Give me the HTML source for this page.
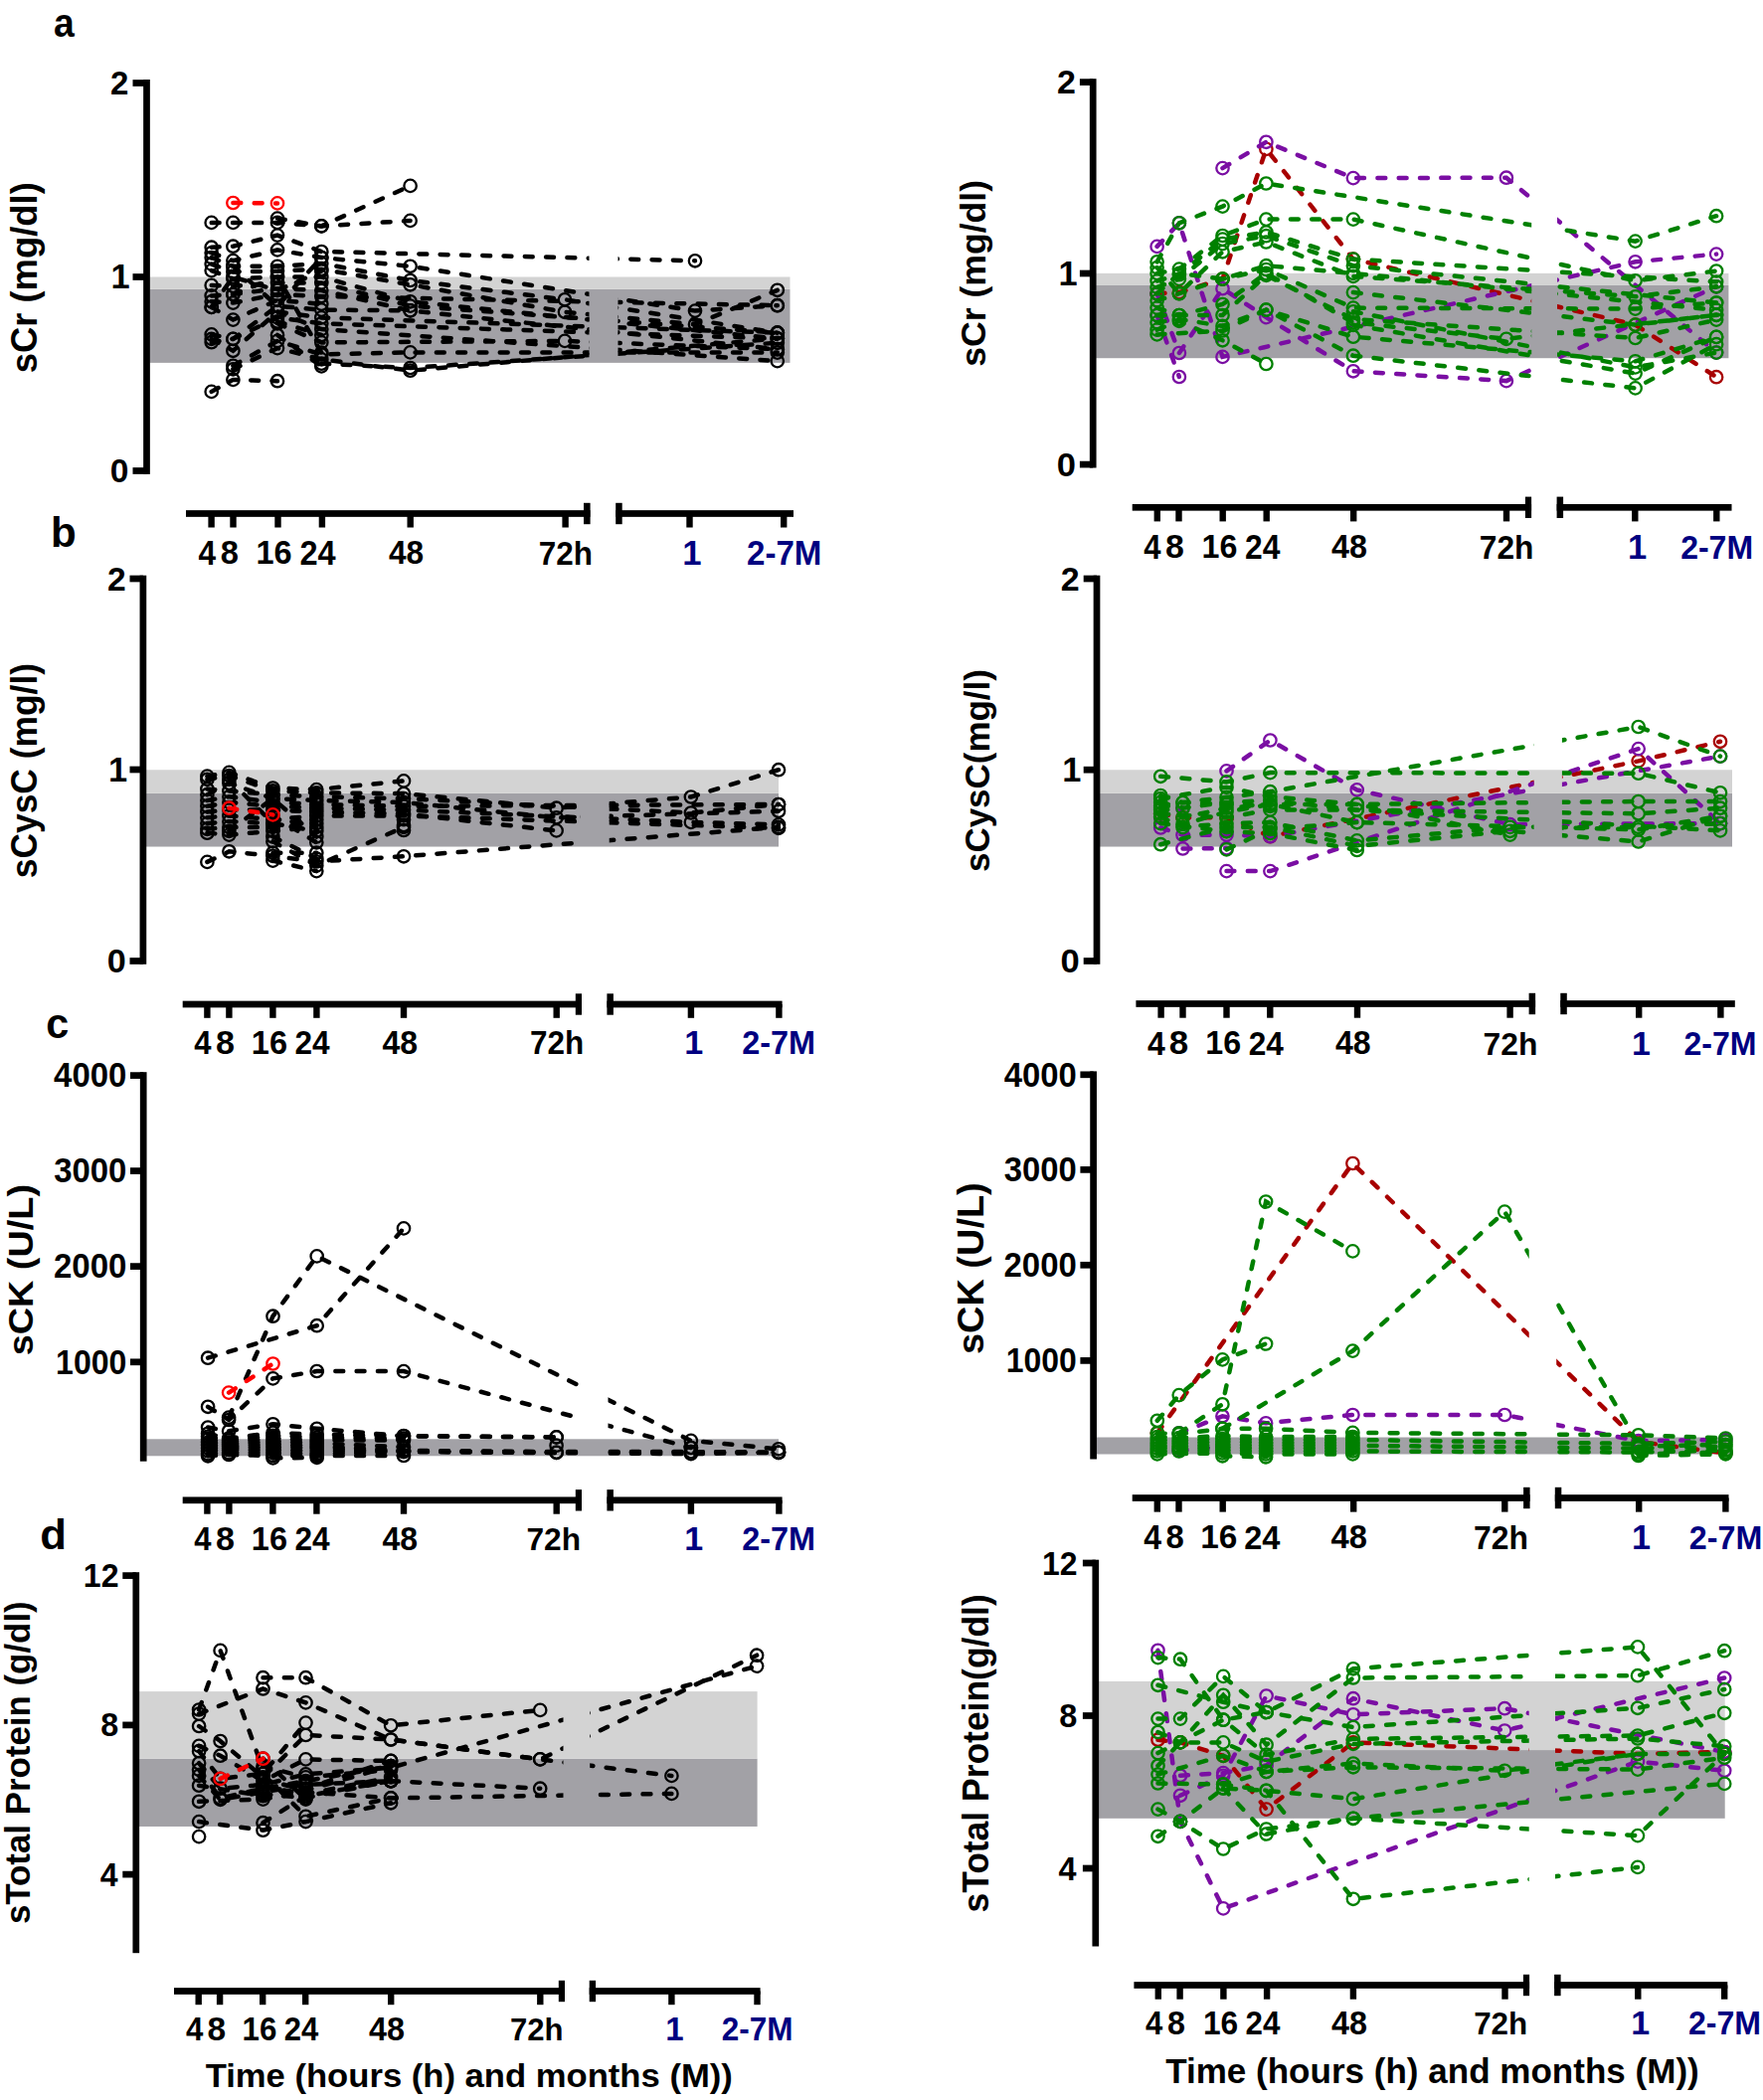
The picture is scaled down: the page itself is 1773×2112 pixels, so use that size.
<!DOCTYPE html>
<html><head><meta charset="utf-8"><title>Figure</title>
<style>html,body{margin:0;padding:0;background:#fff}svg{display:block}.ln{fill:none;stroke-width:4.5;stroke-dasharray:7.9 13.4;stroke-linecap:round}.pt{fill:none;stroke-width:2.3}text{font-family:"Liberation Sans",sans-serif;font-weight:700}</style>
</head><body>
<svg width="1773" height="2112" viewBox="0 0 1773 2112">
<rect width="1773" height="2112" fill="#fff"/>
<rect x="150.40" y="290.78" width="644.10" height="74.10" fill="#a2a1a6"/>
<rect x="150.40" y="278.50" width="644.10" height="12.28" fill="#d3d3d3"/>
<clipPath id="c1"><rect x="0" y="0" width="592.5" height="2112"/><rect x="621.5" y="0" width="1151.5" height="2112"/></clipPath>
<polyline clip-path="url(#c1)" class="ln" points="234.4,204.0 279.0,204.4" stroke="#ff0000"/>
<g class="pt" stroke="#ff0000"><circle cx="234.4" cy="204.0" r="6.2"/><circle cx="279.0" cy="204.4" r="6.2"/></g>
<polyline clip-path="url(#c1)" class="ln" points="212.7,223.9 234.4,223.9 279.0,223.9 323.3,227.4 412.6,186.9" stroke="#000"/>
<g class="pt" stroke="#000"><circle cx="212.7" cy="223.9" r="6.2"/><circle cx="234.4" cy="223.9" r="6.2"/><circle cx="279.0" cy="223.9" r="6.2"/><circle cx="323.3" cy="227.4" r="6.2"/><circle cx="412.6" cy="186.9" r="6.2"/></g>
<polyline clip-path="url(#c1)" class="ln" points="279.0,219.6 323.3,227.4 412.6,221.9" stroke="#000"/>
<g class="pt" stroke="#000"><circle cx="279.0" cy="219.6" r="6.2"/><circle cx="323.3" cy="227.4" r="6.2"/><circle cx="412.6" cy="221.9" r="6.2"/></g>
<polyline clip-path="url(#c1)" class="ln" points="212.7,248.7 234.4,247.7 279.0,236.6 323.3,253.0 699.0,262.3" stroke="#000"/>
<g class="pt" stroke="#000"><circle cx="212.7" cy="248.7" r="6.2"/><circle cx="234.4" cy="247.7" r="6.2"/><circle cx="279.0" cy="236.6" r="6.2"/><circle cx="323.3" cy="253.0" r="6.2"/><circle cx="699.0" cy="262.3" r="6.2"/></g>
<polyline clip-path="url(#c1)" class="ln" points="212.7,254.3 234.4,262.1 279.0,251.4 323.3,259.0 412.6,267.8 699.0,312.6 781.8,307.2" stroke="#000"/>
<g class="pt" stroke="#000"><circle cx="212.7" cy="254.3" r="6.2"/><circle cx="234.4" cy="262.1" r="6.2"/><circle cx="279.0" cy="251.4" r="6.2"/><circle cx="323.3" cy="259.0" r="6.2"/><circle cx="412.6" cy="267.8" r="6.2"/><circle cx="699.0" cy="312.6" r="6.2"/><circle cx="781.8" cy="307.2" r="6.2"/></g>
<polyline clip-path="url(#c1)" class="ln" points="212.7,259.0 234.4,267.8 279.0,267.8 323.3,264.9 412.6,282.0 568.0,301.3 781.8,334.7" stroke="#000"/>
<g class="pt" stroke="#000"><circle cx="212.7" cy="259.0" r="6.2"/><circle cx="234.4" cy="267.8" r="6.2"/><circle cx="279.0" cy="267.8" r="6.2"/><circle cx="323.3" cy="264.9" r="6.2"/><circle cx="412.6" cy="282.0" r="6.2"/><circle cx="568.0" cy="301.3" r="6.2"/><circle cx="781.8" cy="334.7" r="6.2"/></g>
<polyline clip-path="url(#c1)" class="ln" points="212.7,265.6 234.4,273.4 279.0,272.6 323.3,270.7 412.6,286.3 568.0,313.8 699.0,326.3 781.8,291.8" stroke="#000"/>
<g class="pt" stroke="#000"><circle cx="212.7" cy="265.6" r="6.2"/><circle cx="234.4" cy="273.4" r="6.2"/><circle cx="279.0" cy="272.6" r="6.2"/><circle cx="323.3" cy="270.7" r="6.2"/><circle cx="412.6" cy="286.3" r="6.2"/><circle cx="568.0" cy="313.8" r="6.2"/><circle cx="699.0" cy="326.3" r="6.2"/><circle cx="781.8" cy="291.8" r="6.2"/></g>
<polyline clip-path="url(#c1)" class="ln" points="212.7,272.1 234.4,280.4 279.0,278.5 323.3,278.5 412.6,303.3 781.8,340.5" stroke="#000"/>
<g class="pt" stroke="#000"><circle cx="212.7" cy="272.1" r="6.2"/><circle cx="234.4" cy="280.4" r="6.2"/><circle cx="279.0" cy="278.5" r="6.2"/><circle cx="323.3" cy="278.5" r="6.2"/><circle cx="412.6" cy="303.3" r="6.2"/><circle cx="781.8" cy="340.5" r="6.2"/></g>
<polyline clip-path="url(#c1)" class="ln" points="212.7,286.9 234.4,287.7 279.0,284.4 323.3,284.4 412.6,307.6 781.8,334.7" stroke="#000"/>
<g class="pt" stroke="#000"><circle cx="212.7" cy="286.9" r="6.2"/><circle cx="234.4" cy="287.7" r="6.2"/><circle cx="279.0" cy="284.4" r="6.2"/><circle cx="323.3" cy="284.4" r="6.2"/><circle cx="412.6" cy="307.6" r="6.2"/><circle cx="781.8" cy="334.7" r="6.2"/></g>
<polyline clip-path="url(#c1)" class="ln" points="212.7,297.4 234.4,296.0 279.0,290.2 323.3,292.1 412.6,312.4 781.8,351.2" stroke="#000"/>
<g class="pt" stroke="#000"><circle cx="212.7" cy="297.4" r="6.2"/><circle cx="234.4" cy="296.0" r="6.2"/><circle cx="279.0" cy="290.2" r="6.2"/><circle cx="323.3" cy="292.1" r="6.2"/><circle cx="412.6" cy="312.4" r="6.2"/><circle cx="781.8" cy="351.2" r="6.2"/></g>
<polyline clip-path="url(#c1)" class="ln" points="212.7,303.3 234.4,304.6 279.0,296.0 323.3,298.0 781.8,307.2" stroke="#000"/>
<g class="pt" stroke="#000"><circle cx="212.7" cy="303.3" r="6.2"/><circle cx="234.4" cy="304.6" r="6.2"/><circle cx="279.0" cy="296.0" r="6.2"/><circle cx="323.3" cy="298.0" r="6.2"/><circle cx="781.8" cy="307.2" r="6.2"/></g>
<polyline clip-path="url(#c1)" class="ln" points="212.7,308.9 234.4,321.6 279.0,301.9 323.3,305.8" stroke="#000"/>
<g class="pt" stroke="#000"><circle cx="212.7" cy="308.9" r="6.2"/><circle cx="234.4" cy="321.6" r="6.2"/><circle cx="279.0" cy="301.9" r="6.2"/><circle cx="323.3" cy="305.8" r="6.2"/></g>
<polyline clip-path="url(#c1)" class="ln" points="212.7,336.4 234.4,340.9 279.0,307.8 323.3,311.6 412.6,312.4" stroke="#000"/>
<g class="pt" stroke="#000"><circle cx="212.7" cy="336.4" r="6.2"/><circle cx="234.4" cy="340.9" r="6.2"/><circle cx="279.0" cy="307.8" r="6.2"/><circle cx="323.3" cy="311.6" r="6.2"/><circle cx="412.6" cy="312.4" r="6.2"/></g>
<polyline clip-path="url(#c1)" class="ln" points="212.7,340.9 234.4,352.8 279.0,313.6 323.3,319.4 781.8,334.7" stroke="#000"/>
<g class="pt" stroke="#000"><circle cx="212.7" cy="340.9" r="6.2"/><circle cx="234.4" cy="352.8" r="6.2"/><circle cx="279.0" cy="313.6" r="6.2"/><circle cx="323.3" cy="319.4" r="6.2"/><circle cx="781.8" cy="334.7" r="6.2"/></g>
<polyline clip-path="url(#c1)" class="ln" points="212.7,344.2 234.4,340.9 279.0,319.4 323.3,325.3 781.8,340.5" stroke="#000"/>
<g class="pt" stroke="#000"><circle cx="212.7" cy="344.2" r="6.2"/><circle cx="234.4" cy="340.9" r="6.2"/><circle cx="279.0" cy="319.4" r="6.2"/><circle cx="323.3" cy="325.3" r="6.2"/><circle cx="781.8" cy="340.5" r="6.2"/></g>
<polyline clip-path="url(#c1)" class="ln" points="212.7,393.9 234.4,381.9 279.0,383.2" stroke="#000"/>
<g class="pt" stroke="#000"><circle cx="212.7" cy="393.9" r="6.2"/><circle cx="234.4" cy="381.9" r="6.2"/><circle cx="279.0" cy="383.2" r="6.2"/></g>
<polyline clip-path="url(#c1)" class="ln" points="234.4,367.8 279.0,342.9 323.3,356.5 412.6,354.4 781.8,354.6" stroke="#000"/>
<g class="pt" stroke="#000"><circle cx="234.4" cy="367.8" r="6.2"/><circle cx="279.0" cy="342.9" r="6.2"/><circle cx="323.3" cy="356.5" r="6.2"/><circle cx="412.6" cy="354.4" r="6.2"/><circle cx="781.8" cy="354.6" r="6.2"/></g>
<polyline clip-path="url(#c1)" class="ln" points="234.4,371.3 279.0,350.1 323.3,361.4 412.6,372.7 781.8,340.5" stroke="#000"/>
<g class="pt" stroke="#000"><circle cx="234.4" cy="371.3" r="6.2"/><circle cx="279.0" cy="350.1" r="6.2"/><circle cx="323.3" cy="361.4" r="6.2"/><circle cx="412.6" cy="372.7" r="6.2"/><circle cx="781.8" cy="340.5" r="6.2"/></g>
<polyline clip-path="url(#c1)" class="ln" points="279.0,313.6 323.3,331.1 781.8,363.1" stroke="#000"/>
<g class="pt" stroke="#000"><circle cx="279.0" cy="313.6" r="6.2"/><circle cx="323.3" cy="331.1" r="6.2"/><circle cx="781.8" cy="363.1" r="6.2"/></g>
<polyline clip-path="url(#c1)" class="ln" points="279.0,323.4 323.3,337.0" stroke="#000"/>
<g class="pt" stroke="#000"><circle cx="279.0" cy="323.4" r="6.2"/><circle cx="323.3" cy="337.0" r="6.2"/></g>
<polyline clip-path="url(#c1)" class="ln" points="279.0,325.3 323.3,344.4 568.0,342.9 781.8,351.2" stroke="#000"/>
<g class="pt" stroke="#000"><circle cx="279.0" cy="325.3" r="6.2"/><circle cx="323.3" cy="344.4" r="6.2"/><circle cx="568.0" cy="342.9" r="6.2"/><circle cx="781.8" cy="351.2" r="6.2"/></g>
<polyline clip-path="url(#c1)" class="ln" points="234.4,267.8 279.0,307.8 323.3,259.0" stroke="#000"/>
<g class="pt" stroke="#000"><circle cx="234.4" cy="267.8" r="6.2"/><circle cx="279.0" cy="307.8" r="6.2"/><circle cx="323.3" cy="259.0" r="6.2"/></g>
<polyline clip-path="url(#c1)" class="ln" points="234.4,296.0 279.0,278.5 323.3,354.6" stroke="#000"/>
<g class="pt" stroke="#000"><circle cx="234.4" cy="296.0" r="6.2"/><circle cx="279.0" cy="278.5" r="6.2"/><circle cx="323.3" cy="354.6" r="6.2"/></g>
<polyline clip-path="url(#c1)" class="ln" points="323.3,365.7 412.6,370.0 781.8,344.8" stroke="#000"/>
<g class="pt" stroke="#000"><circle cx="323.3" cy="365.7" r="6.2"/><circle cx="412.6" cy="370.0" r="6.2"/><circle cx="781.8" cy="344.8" r="6.2"/></g>
<polyline clip-path="url(#c1)" class="ln" points="279.0,337.0 323.3,368.4" stroke="#000"/>
<g class="pt" stroke="#000"><circle cx="279.0" cy="337.0" r="6.2"/><circle cx="323.3" cy="368.4" r="6.2"/></g>
<polyline clip-path="url(#c1)" class="ln" points="212.7,308.9 234.4,278.5 279.0,292.1 323.3,272.6" stroke="#000"/>
<g class="pt" stroke="#000"><circle cx="212.7" cy="308.9" r="6.2"/><circle cx="234.4" cy="278.5" r="6.2"/><circle cx="279.0" cy="292.1" r="6.2"/><circle cx="323.3" cy="272.6" r="6.2"/></g>
<rect x="144.15" y="80.00" width="6.70" height="396.90" fill="#000"/>
<rect x="133.50" y="80.15" width="14.00" height="6.70" fill="#000"/>
<text transform="matrix(1.0000 0 0 1.0304 111.00 95.30)" font-size="33" fill="#000">2</text>
<rect x="133.50" y="275.15" width="14.00" height="6.70" fill="#000"/>
<text transform="matrix(1.0418 0 0 1.0418 111.44 290.30)" font-size="33" fill="#000">1</text>
<rect x="133.50" y="470.15" width="14.00" height="6.70" fill="#000"/>
<text transform="matrix(1.0159 0 0 1.0194 110.73 485.05)" font-size="33" fill="#000">0</text>
<rect x="187.00" y="513.15" width="406.50" height="6.70" fill="#000"/>
<rect x="587.00" y="505.80" width="6.60" height="21.40" fill="#000"/>
<rect x="619.20" y="513.15" width="178.80" height="6.70" fill="#000"/>
<rect x="619.20" y="505.80" width="6.50" height="21.40" fill="#000"/>
<rect x="209.40" y="516.50" width="6.40" height="14.00" fill="#000"/>
<rect x="231.30" y="516.50" width="6.40" height="14.00" fill="#000"/>
<rect x="276.30" y="516.50" width="6.40" height="14.00" fill="#000"/>
<rect x="320.70" y="516.50" width="6.40" height="14.00" fill="#000"/>
<rect x="409.50" y="516.50" width="6.40" height="14.00" fill="#000"/>
<rect x="565.40" y="516.50" width="6.40" height="14.00" fill="#000"/>
<rect x="690.30" y="516.50" width="6.40" height="14.00" fill="#000"/>
<rect x="785.00" y="516.50" width="6.40" height="14.00" fill="#000"/>
<text transform="matrix(0.9577 0 0 1.0505 199.52 567.50)" font-size="33" fill="#000">4</text>
<text transform="matrix(0.9908 0 0 1.0280 221.81 567.24)" font-size="33" fill="#000">8</text>
<text transform="matrix(0.9851 0 0 1.0280 257.53 567.24)" font-size="33" fill="#000">16</text>
<text transform="matrix(0.9859 0 0 1.0391 301.51 567.50)" font-size="33" fill="#000">24</text>
<text transform="matrix(0.9571 0 0 1.0280 391.02 567.24)" font-size="33" fill="#000">48</text>
<text transform="matrix(0.9533 0 0 0.9958 541.77 567.50)" font-size="33" fill="#000">72h</text>
<text transform="matrix(1.0505 0 0 1.0505 686.33 567.50)" font-size="33" fill="#000080">1</text>
<text transform="matrix(1.0028 0 0 1.0391 751.00 567.50)" font-size="33" fill="#000080">2-7M</text>
<text xml:space="preserve" transform="matrix(0 -1.0399 1.0443 0 37.37 375.30)" font-size="35" fill="#000">sCr (mg/dl)</text>
<rect x="1102.10" y="286.96" width="636.30" height="73.25" fill="#a2a1a6"/>
<rect x="1102.10" y="274.85" width="636.30" height="12.11" fill="#d3d3d3"/>
<clipPath id="c2"><rect x="0" y="0" width="1540.2" height="2112"/><rect x="1566.0" y="0" width="207.0" height="2112"/></clipPath>
<polyline clip-path="url(#c2)" class="ln" points="1163.6,295.2 1185.9,294.1 1229.5,280.6 1273.4,149.9 1360.9,260.6 1644.6,326.6 1726.1,379.2" stroke="#a80000"/>
<g class="pt" stroke="#a80000"><circle cx="1163.6" cy="295.2" r="6.2"/><circle cx="1185.9" cy="294.1" r="6.2"/><circle cx="1229.5" cy="280.6" r="6.2"/><circle cx="1273.4" cy="149.9" r="6.2"/><circle cx="1360.9" cy="260.6" r="6.2"/><circle cx="1644.6" cy="326.6" r="6.2"/><circle cx="1726.1" cy="379.2" r="6.2"/></g>
<polyline clip-path="url(#c2)" class="ln" points="1163.6,247.9 1185.9,224.3 1229.5,358.9 1644.6,263.3 1726.1,255.6" stroke="#7a0ea3"/>
<g class="pt" stroke="#7a0ea3"><circle cx="1163.6" cy="247.9" r="6.2"/><circle cx="1185.9" cy="224.3" r="6.2"/><circle cx="1229.5" cy="358.9" r="6.2"/><circle cx="1644.6" cy="263.3" r="6.2"/><circle cx="1726.1" cy="255.6" r="6.2"/></g>
<polyline clip-path="url(#c2)" class="ln" points="1163.6,295.2 1185.9,355.0 1229.5,290.2 1273.4,319.1 1360.9,373.3 1514.9,383.1 1726.1,288.3" stroke="#7a0ea3"/>
<g class="pt" stroke="#7a0ea3"><circle cx="1163.6" cy="295.2" r="6.2"/><circle cx="1185.9" cy="355.0" r="6.2"/><circle cx="1229.5" cy="290.2" r="6.2"/><circle cx="1273.4" cy="319.1" r="6.2"/><circle cx="1360.9" cy="373.3" r="6.2"/><circle cx="1514.9" cy="383.1" r="6.2"/><circle cx="1726.1" cy="288.3" r="6.2"/></g>
<polyline clip-path="url(#c2)" class="ln" points="1163.6,317.0 1185.9,379.0" stroke="#7a0ea3"/>
<g class="pt" stroke="#7a0ea3"><circle cx="1163.6" cy="317.0" r="6.2"/><circle cx="1185.9" cy="379.0" r="6.2"/></g>
<polyline clip-path="url(#c2)" class="ln" points="1229.5,169.1 1273.4,142.8 1360.9,179.1 1514.9,178.7 1726.1,354.6" stroke="#7a0ea3"/>
<g class="pt" stroke="#7a0ea3"><circle cx="1229.5" cy="169.1" r="6.2"/><circle cx="1273.4" cy="142.8" r="6.2"/><circle cx="1360.9" cy="179.1" r="6.2"/><circle cx="1514.9" cy="178.7" r="6.2"/><circle cx="1726.1" cy="354.6" r="6.2"/></g>
<polyline clip-path="url(#c2)" class="ln" points="1163.6,263.3 1185.9,224.3 1229.5,207.6 1273.4,184.5 1644.6,242.6 1726.1,217.2" stroke="#008000"/>
<g class="pt" stroke="#008000"><circle cx="1163.6" cy="263.3" r="6.2"/><circle cx="1185.9" cy="224.3" r="6.2"/><circle cx="1229.5" cy="207.6" r="6.2"/><circle cx="1273.4" cy="184.5" r="6.2"/><circle cx="1644.6" cy="242.6" r="6.2"/><circle cx="1726.1" cy="217.2" r="6.2"/></g>
<polyline clip-path="url(#c2)" class="ln" points="1163.6,274.9 1185.9,270.6 1229.5,237.0 1273.4,220.6 1360.9,220.6 1644.6,282.3 1726.1,272.5" stroke="#008000"/>
<g class="pt" stroke="#008000"><circle cx="1163.6" cy="274.9" r="6.2"/><circle cx="1185.9" cy="270.6" r="6.2"/><circle cx="1229.5" cy="237.0" r="6.2"/><circle cx="1273.4" cy="220.6" r="6.2"/><circle cx="1360.9" cy="220.6" r="6.2"/><circle cx="1644.6" cy="282.3" r="6.2"/><circle cx="1726.1" cy="272.5" r="6.2"/></g>
<polyline clip-path="url(#c2)" class="ln" points="1163.6,282.5 1185.9,276.2 1229.5,240.6 1273.4,233.5 1360.9,260.6 1726.1,283.5" stroke="#008000"/>
<g class="pt" stroke="#008000"><circle cx="1163.6" cy="282.5" r="6.2"/><circle cx="1185.9" cy="276.2" r="6.2"/><circle cx="1229.5" cy="240.6" r="6.2"/><circle cx="1273.4" cy="233.5" r="6.2"/><circle cx="1360.9" cy="260.6" r="6.2"/><circle cx="1726.1" cy="283.5" r="6.2"/></g>
<polyline clip-path="url(#c2)" class="ln" points="1163.6,288.9 1185.9,280.6 1229.5,245.1 1273.4,237.2 1360.9,267.2 1726.1,304.5" stroke="#008000"/>
<g class="pt" stroke="#008000"><circle cx="1163.6" cy="288.9" r="6.2"/><circle cx="1185.9" cy="280.6" r="6.2"/><circle cx="1229.5" cy="245.1" r="6.2"/><circle cx="1273.4" cy="237.2" r="6.2"/><circle cx="1360.9" cy="267.2" r="6.2"/><circle cx="1726.1" cy="304.5" r="6.2"/></g>
<polyline clip-path="url(#c2)" class="ln" points="1163.6,269.1 1185.9,295.2 1229.5,253.3 1273.4,243.5 1360.9,277.9 1644.6,298.3 1726.1,288.3" stroke="#008000"/>
<g class="pt" stroke="#008000"><circle cx="1163.6" cy="269.1" r="6.2"/><circle cx="1185.9" cy="295.2" r="6.2"/><circle cx="1229.5" cy="253.3" r="6.2"/><circle cx="1273.4" cy="243.5" r="6.2"/><circle cx="1360.9" cy="277.9" r="6.2"/><circle cx="1644.6" cy="298.3" r="6.2"/><circle cx="1726.1" cy="288.3" r="6.2"/></g>
<polyline clip-path="url(#c2)" class="ln" points="1163.6,295.2 1185.9,274.9 1229.5,280.6 1273.4,267.2 1360.9,274.9 1726.1,311.8" stroke="#008000"/>
<g class="pt" stroke="#008000"><circle cx="1163.6" cy="295.2" r="6.2"/><circle cx="1185.9" cy="274.9" r="6.2"/><circle cx="1229.5" cy="280.6" r="6.2"/><circle cx="1273.4" cy="267.2" r="6.2"/><circle cx="1360.9" cy="274.9" r="6.2"/><circle cx="1726.1" cy="311.8" r="6.2"/></g>
<polyline clip-path="url(#c2)" class="ln" points="1163.6,302.3 1185.9,295.2 1229.5,280.6 1273.4,271.0 1360.9,309.6 1644.6,310.6 1726.1,304.5" stroke="#008000"/>
<g class="pt" stroke="#008000"><circle cx="1163.6" cy="302.3" r="6.2"/><circle cx="1185.9" cy="295.2" r="6.2"/><circle cx="1229.5" cy="280.6" r="6.2"/><circle cx="1273.4" cy="271.0" r="6.2"/><circle cx="1360.9" cy="309.6" r="6.2"/><circle cx="1644.6" cy="310.6" r="6.2"/><circle cx="1726.1" cy="304.5" r="6.2"/></g>
<polyline clip-path="url(#c2)" class="ln" points="1163.6,309.6 1185.9,317.0 1229.5,306.0 1273.4,274.9 1360.9,324.3 1514.9,340.8 1726.1,316.8" stroke="#008000"/>
<g class="pt" stroke="#008000"><circle cx="1163.6" cy="309.6" r="6.2"/><circle cx="1185.9" cy="317.0" r="6.2"/><circle cx="1229.5" cy="306.0" r="6.2"/><circle cx="1273.4" cy="274.9" r="6.2"/><circle cx="1360.9" cy="324.3" r="6.2"/><circle cx="1514.9" cy="340.8" r="6.2"/><circle cx="1726.1" cy="316.8" r="6.2"/></g>
<polyline clip-path="url(#c2)" class="ln" points="1163.6,317.0 1185.9,317.0 1229.5,317.0 1273.4,276.8 1360.9,321.0 1644.6,340.0 1726.1,321.6" stroke="#008000"/>
<g class="pt" stroke="#008000"><circle cx="1163.6" cy="317.0" r="6.2"/><circle cx="1185.9" cy="317.0" r="6.2"/><circle cx="1229.5" cy="317.0" r="6.2"/><circle cx="1273.4" cy="276.8" r="6.2"/><circle cx="1360.9" cy="321.0" r="6.2"/><circle cx="1644.6" cy="340.0" r="6.2"/><circle cx="1726.1" cy="321.6" r="6.2"/></g>
<polyline clip-path="url(#c2)" class="ln" points="1163.6,324.3 1185.9,321.0 1229.5,327.9 1273.4,311.6 1360.9,338.7 1644.6,363.3 1726.1,338.9" stroke="#008000"/>
<g class="pt" stroke="#008000"><circle cx="1163.6" cy="324.3" r="6.2"/><circle cx="1185.9" cy="321.0" r="6.2"/><circle cx="1229.5" cy="327.9" r="6.2"/><circle cx="1273.4" cy="311.6" r="6.2"/><circle cx="1360.9" cy="338.7" r="6.2"/><circle cx="1644.6" cy="363.3" r="6.2"/><circle cx="1726.1" cy="338.9" r="6.2"/></g>
<polyline clip-path="url(#c2)" class="ln" points="1163.6,331.6 1185.9,322.9 1229.5,342.3 1273.4,366.0" stroke="#008000"/>
<g class="pt" stroke="#008000"><circle cx="1163.6" cy="331.6" r="6.2"/><circle cx="1185.9" cy="322.9" r="6.2"/><circle cx="1229.5" cy="342.3" r="6.2"/><circle cx="1273.4" cy="366.0" r="6.2"/></g>
<polyline clip-path="url(#c2)" class="ln" points="1163.6,336.4 1229.5,332.5 1273.4,311.6 1360.9,357.7 1644.6,390.4 1726.1,346.2" stroke="#008000"/>
<g class="pt" stroke="#008000"><circle cx="1163.6" cy="336.4" r="6.2"/><circle cx="1229.5" cy="332.5" r="6.2"/><circle cx="1273.4" cy="311.6" r="6.2"/><circle cx="1360.9" cy="357.7" r="6.2"/><circle cx="1644.6" cy="390.4" r="6.2"/><circle cx="1726.1" cy="346.2" r="6.2"/></g>
<polyline clip-path="url(#c2)" class="ln" points="1360.9,313.3 1644.6,369.4 1726.1,354.6" stroke="#008000"/>
<g class="pt" stroke="#008000"><circle cx="1360.9" cy="313.3" r="6.2"/><circle cx="1644.6" cy="369.4" r="6.2"/><circle cx="1726.1" cy="354.6" r="6.2"/></g>
<polyline clip-path="url(#c2)" class="ln" points="1360.9,326.8 1644.6,375.6 1726.1,338.9" stroke="#008000"/>
<g class="pt" stroke="#008000"><circle cx="1360.9" cy="326.8" r="6.2"/><circle cx="1644.6" cy="375.6" r="6.2"/><circle cx="1726.1" cy="338.9" r="6.2"/></g>
<polyline clip-path="url(#c2)" class="ln" points="1360.9,294.1 1644.6,326.6 1726.1,316.8" stroke="#008000"/>
<g class="pt" stroke="#008000"><circle cx="1360.9" cy="294.1" r="6.2"/><circle cx="1644.6" cy="326.6" r="6.2"/><circle cx="1726.1" cy="316.8" r="6.2"/></g>
<rect x="1095.85" y="79.20" width="6.70" height="391.30" fill="#000"/>
<rect x="1085.90" y="79.25" width="13.30" height="6.70" fill="#000"/>
<text transform="matrix(1.0312 0 0 1.0304 1062.97 94.40)" font-size="33" fill="#000">2</text>
<rect x="1085.90" y="271.65" width="13.30" height="6.70" fill="#000"/>
<text transform="matrix(1.0418 0 0 1.0418 1064.44 286.80)" font-size="33" fill="#000">1</text>
<rect x="1085.90" y="463.75" width="13.30" height="6.70" fill="#000"/>
<text transform="matrix(1.0476 0 0 1.0194 1062.69 478.65)" font-size="33" fill="#000">0</text>
<rect x="1138.70" y="506.95" width="401.40" height="6.70" fill="#000"/>
<rect x="1533.90" y="499.60" width="6.20" height="21.40" fill="#000"/>
<rect x="1565.60" y="506.95" width="175.90" height="6.70" fill="#000"/>
<rect x="1565.60" y="499.60" width="6.50" height="21.40" fill="#000"/>
<rect x="1160.60" y="510.30" width="6.40" height="14.10" fill="#000"/>
<rect x="1182.30" y="510.30" width="6.40" height="14.10" fill="#000"/>
<rect x="1226.50" y="510.30" width="6.40" height="14.10" fill="#000"/>
<rect x="1270.50" y="510.30" width="6.40" height="14.10" fill="#000"/>
<rect x="1358.00" y="510.30" width="6.40" height="14.10" fill="#000"/>
<rect x="1511.80" y="510.30" width="6.40" height="14.10" fill="#000"/>
<rect x="1641.10" y="510.30" width="6.40" height="14.10" fill="#000"/>
<rect x="1723.10" y="510.30" width="6.40" height="14.10" fill="#000"/>
<text transform="matrix(0.9408 0 0 1.0462 1150.23 561.50)" font-size="33" fill="#000">4</text>
<text transform="matrix(1.0277 0 0 1.0237 1172.07 561.24)" font-size="33" fill="#000">8</text>
<text transform="matrix(0.9761 0 0 1.0237 1208.55 561.24)" font-size="33" fill="#000">16</text>
<text transform="matrix(0.9634 0 0 1.0348 1252.04 561.50)" font-size="33" fill="#000">24</text>
<text transform="matrix(0.9800 0 0 1.0237 1339.01 561.24)" font-size="33" fill="#000">48</text>
<text transform="matrix(0.9607 0 0 0.9917 1487.76 561.50)" font-size="33" fill="#000">72h</text>
<text transform="matrix(1.0462 0 0 1.0462 1637.08 561.50)" font-size="33" fill="#000080">1</text>
<text transform="matrix(0.9708 0 0 1.0348 1690.13 561.50)" font-size="33" fill="#000080">2-7M</text>
<text xml:space="preserve" transform="matrix(0 -1.0162 1.0137 0 991.00 368.67)" font-size="35" fill="#000">sCr (mg/dl)</text>
<rect x="146.80" y="797.80" width="636.20" height="53.73" fill="#a2a1a6"/>
<rect x="146.80" y="774.25" width="636.20" height="23.55" fill="#d3d3d3"/>
<clipPath id="c3"><rect x="0" y="0" width="583.4" height="2112"/><rect x="612.7" y="0" width="1160.3" height="2112"/></clipPath>
<polyline clip-path="url(#c3)" class="ln" points="208.4,866.9 230.4,856.3 274.4,860.8 318.3,866.5 406.0,861.3 783.0,831.9" stroke="#000"/>
<g class="pt" stroke="#000"><circle cx="208.4" cy="866.9" r="6.2"/><circle cx="230.4" cy="856.3" r="6.2"/><circle cx="274.4" cy="860.8" r="6.2"/><circle cx="318.3" cy="866.5" r="6.2"/><circle cx="406.0" cy="861.3" r="6.2"/><circle cx="783.0" cy="831.9" r="6.2"/></g>
<polyline clip-path="url(#c3)" class="ln" points="208.4,780.6 230.4,776.9 274.4,792.5 318.3,794.1 406.0,785.4" stroke="#000"/>
<g class="pt" stroke="#000"><circle cx="208.4" cy="780.6" r="6.2"/><circle cx="230.4" cy="776.9" r="6.2"/><circle cx="274.4" cy="792.5" r="6.2"/><circle cx="318.3" cy="794.1" r="6.2"/><circle cx="406.0" cy="785.4" r="6.2"/></g>
<polyline clip-path="url(#c3)" class="ln" points="208.4,783.9 230.4,780.0 274.4,795.4 318.3,797.3 406.0,798.1 559.6,812.7 694.9,801.5 783.0,774.2" stroke="#000"/>
<g class="pt" stroke="#000"><circle cx="208.4" cy="783.9" r="6.2"/><circle cx="230.4" cy="780.0" r="6.2"/><circle cx="274.4" cy="795.4" r="6.2"/><circle cx="318.3" cy="797.3" r="6.2"/><circle cx="406.0" cy="798.1" r="6.2"/><circle cx="559.6" cy="812.7" r="6.2"/><circle cx="694.9" cy="801.5" r="6.2"/><circle cx="783.0" cy="774.2" r="6.2"/></g>
<polyline clip-path="url(#c3)" class="ln" points="208.4,793.5 230.4,795.4 274.4,799.2 318.3,801.2 406.0,803.1 694.9,817.5 783.0,809.0" stroke="#000"/>
<g class="pt" stroke="#000"><circle cx="208.4" cy="793.5" r="6.2"/><circle cx="230.4" cy="795.4" r="6.2"/><circle cx="274.4" cy="799.2" r="6.2"/><circle cx="318.3" cy="801.2" r="6.2"/><circle cx="406.0" cy="803.1" r="6.2"/><circle cx="694.9" cy="817.5" r="6.2"/><circle cx="783.0" cy="809.0" r="6.2"/></g>
<polyline clip-path="url(#c3)" class="ln" points="208.4,799.2 230.4,787.7 274.4,803.1 318.3,805.0 406.0,806.9 559.6,822.3 783.0,815.8" stroke="#000"/>
<g class="pt" stroke="#000"><circle cx="208.4" cy="799.2" r="6.2"/><circle cx="230.4" cy="787.7" r="6.2"/><circle cx="274.4" cy="803.1" r="6.2"/><circle cx="318.3" cy="805.0" r="6.2"/><circle cx="406.0" cy="806.9" r="6.2"/><circle cx="559.6" cy="822.3" r="6.2"/><circle cx="783.0" cy="815.8" r="6.2"/></g>
<polyline clip-path="url(#c3)" class="ln" points="208.4,805.0 230.4,801.2 274.4,806.9 318.3,808.9 406.0,810.8 783.0,809.0" stroke="#000"/>
<g class="pt" stroke="#000"><circle cx="208.4" cy="805.0" r="6.2"/><circle cx="230.4" cy="801.2" r="6.2"/><circle cx="274.4" cy="806.9" r="6.2"/><circle cx="318.3" cy="808.9" r="6.2"/><circle cx="406.0" cy="810.8" r="6.2"/><circle cx="783.0" cy="809.0" r="6.2"/></g>
<polyline clip-path="url(#c3)" class="ln" points="208.4,810.8 230.4,806.9 274.4,810.8 318.3,812.7 406.0,814.6 694.9,826.9 783.0,829.4" stroke="#000"/>
<g class="pt" stroke="#000"><circle cx="208.4" cy="810.8" r="6.2"/><circle cx="230.4" cy="806.9" r="6.2"/><circle cx="274.4" cy="810.8" r="6.2"/><circle cx="318.3" cy="812.7" r="6.2"/><circle cx="406.0" cy="814.6" r="6.2"/><circle cx="694.9" cy="826.9" r="6.2"/><circle cx="783.0" cy="829.4" r="6.2"/></g>
<polyline clip-path="url(#c3)" class="ln" points="208.4,816.5 230.4,814.6 274.4,814.6 318.3,816.5 406.0,818.5 559.6,835.4" stroke="#000"/>
<g class="pt" stroke="#000"><circle cx="208.4" cy="816.5" r="6.2"/><circle cx="230.4" cy="814.6" r="6.2"/><circle cx="274.4" cy="814.6" r="6.2"/><circle cx="318.3" cy="816.5" r="6.2"/><circle cx="406.0" cy="818.5" r="6.2"/><circle cx="559.6" cy="835.4" r="6.2"/></g>
<polyline clip-path="url(#c3)" class="ln" points="208.4,822.3 230.4,820.4 274.4,824.2 318.3,820.4 406.0,820.4 783.0,832.9" stroke="#000"/>
<g class="pt" stroke="#000"><circle cx="208.4" cy="822.3" r="6.2"/><circle cx="230.4" cy="820.4" r="6.2"/><circle cx="274.4" cy="824.2" r="6.2"/><circle cx="318.3" cy="820.4" r="6.2"/><circle cx="406.0" cy="820.4" r="6.2"/><circle cx="783.0" cy="832.9" r="6.2"/></g>
<polyline clip-path="url(#c3)" class="ln" points="208.4,828.1 230.4,826.2 274.4,828.1 318.3,824.2" stroke="#000"/>
<g class="pt" stroke="#000"><circle cx="208.4" cy="828.1" r="6.2"/><circle cx="230.4" cy="826.2" r="6.2"/><circle cx="274.4" cy="828.1" r="6.2"/><circle cx="318.3" cy="824.2" r="6.2"/></g>
<g class="pt" stroke="#000"><circle cx="406.0" cy="824.2" r="6.2"/></g>
<g class="pt" stroke="#000"><circle cx="406.0" cy="830.0" r="6.2"/></g>
<g class="pt" stroke="#000"><circle cx="406.0" cy="835.0" r="6.2"/></g>
<polyline clip-path="url(#c3)" class="ln" points="208.4,833.8 230.4,831.9 274.4,831.9 318.3,828.1" stroke="#000"/>
<g class="pt" stroke="#000"><circle cx="208.4" cy="833.8" r="6.2"/><circle cx="230.4" cy="831.9" r="6.2"/><circle cx="274.4" cy="831.9" r="6.2"/><circle cx="318.3" cy="828.1" r="6.2"/></g>
<polyline clip-path="url(#c3)" class="ln" points="208.4,837.7 230.4,839.6 274.4,835.8 318.3,831.9" stroke="#000"/>
<g class="pt" stroke="#000"><circle cx="208.4" cy="837.7" r="6.2"/><circle cx="230.4" cy="839.6" r="6.2"/><circle cx="274.4" cy="835.8" r="6.2"/><circle cx="318.3" cy="831.9" r="6.2"/></g>
<polyline clip-path="url(#c3)" class="ln" points="274.4,857.7 318.3,857.7" stroke="#000"/>
<g class="pt" stroke="#000"><circle cx="274.4" cy="857.7" r="6.2"/><circle cx="318.3" cy="857.7" r="6.2"/></g>
<polyline clip-path="url(#c3)" class="ln" points="274.4,841.5 318.3,863.5" stroke="#000"/>
<g class="pt" stroke="#000"><circle cx="274.4" cy="841.5" r="6.2"/><circle cx="318.3" cy="863.5" r="6.2"/></g>
<polyline clip-path="url(#c3)" class="ln" points="274.4,846.3 318.3,870.6 406.0,831.9" stroke="#000"/>
<g class="pt" stroke="#000"><circle cx="274.4" cy="846.3" r="6.2"/><circle cx="318.3" cy="870.6" r="6.2"/><circle cx="406.0" cy="831.9" r="6.2"/></g>
<polyline clip-path="url(#c3)" class="ln" points="274.4,865.6 318.3,876.1" stroke="#000"/>
<g class="pt" stroke="#000"><circle cx="274.4" cy="865.6" r="6.2"/><circle cx="318.3" cy="876.1" r="6.2"/></g>
<polyline clip-path="url(#c3)" class="ln" points="230.4,783.9 274.4,828.1 318.3,835.8" stroke="#000"/>
<g class="pt" stroke="#000"><circle cx="230.4" cy="783.9" r="6.2"/><circle cx="274.4" cy="828.1" r="6.2"/><circle cx="318.3" cy="835.8" r="6.2"/></g>
<polyline clip-path="url(#c3)" class="ln" points="230.4,835.8 274.4,803.1 318.3,841.5" stroke="#000"/>
<g class="pt" stroke="#000"><circle cx="230.4" cy="835.8" r="6.2"/><circle cx="274.4" cy="803.1" r="6.2"/><circle cx="318.3" cy="841.5" r="6.2"/></g>
<polyline clip-path="url(#c3)" class="ln" points="274.4,820.4 318.3,847.3" stroke="#000"/>
<g class="pt" stroke="#000"><circle cx="274.4" cy="820.4" r="6.2"/><circle cx="318.3" cy="847.3" r="6.2"/></g>
<polyline clip-path="url(#c3)" class="ln" points="230.4,812.7 274.4,819.4" stroke="#ff0000"/>
<g class="pt" stroke="#ff0000"><circle cx="230.4" cy="812.7" r="6.2"/><circle cx="274.4" cy="819.4" r="6.2"/></g>
<rect x="140.55" y="578.70" width="6.70" height="391.10" fill="#000"/>
<rect x="130.50" y="578.65" width="13.40" height="6.70" fill="#000"/>
<text transform="matrix(1.0187 0 0 1.0304 107.98 593.80)" font-size="33" fill="#000">2</text>
<rect x="130.50" y="770.65" width="13.40" height="6.70" fill="#000"/>
<text transform="matrix(1.0418 0 0 1.0418 108.94 785.80)" font-size="33" fill="#000">1</text>
<rect x="130.50" y="963.15" width="13.40" height="6.70" fill="#000"/>
<text transform="matrix(1.0349 0 0 1.0194 107.71 978.05)" font-size="33" fill="#000">0</text>
<rect x="183.70" y="1006.65" width="401.30" height="6.70" fill="#000"/>
<rect x="578.80" y="999.30" width="6.20" height="21.40" fill="#000"/>
<rect x="610.40" y="1006.65" width="176.20" height="6.70" fill="#000"/>
<rect x="610.40" y="999.30" width="6.50" height="21.40" fill="#000"/>
<rect x="205.20" y="1010.00" width="6.40" height="13.80" fill="#000"/>
<rect x="227.20" y="1010.00" width="6.40" height="13.80" fill="#000"/>
<rect x="271.20" y="1010.00" width="6.40" height="13.80" fill="#000"/>
<rect x="315.20" y="1010.00" width="6.40" height="13.80" fill="#000"/>
<rect x="402.80" y="1010.00" width="6.40" height="13.80" fill="#000"/>
<rect x="556.50" y="1010.00" width="6.40" height="13.80" fill="#000"/>
<rect x="691.70" y="1010.00" width="6.40" height="13.80" fill="#000"/>
<rect x="780.20" y="1010.00" width="6.40" height="13.80" fill="#000"/>
<text transform="matrix(0.9408 0 0 1.0330 195.23 1060.30)" font-size="33" fill="#000">4</text>
<text transform="matrix(1.0338 0 0 1.0108 217.07 1060.05)" font-size="33" fill="#000">8</text>
<text transform="matrix(0.9851 0 0 1.0108 252.83 1060.05)" font-size="33" fill="#000">16</text>
<text transform="matrix(0.9577 0 0 1.0217 296.54 1060.30)" font-size="33" fill="#000">24</text>
<text transform="matrix(0.9686 0 0 1.0108 384.42 1060.05)" font-size="33" fill="#000">48</text>
<text transform="matrix(0.9533 0 0 0.9792 533.07 1060.30)" font-size="33" fill="#000">72h</text>
<text transform="matrix(1.0330 0 0 1.0330 688.15 1060.30)" font-size="33" fill="#000080">1</text>
<text transform="matrix(0.9833 0 0 1.0217 746.22 1060.30)" font-size="33" fill="#000080">2-7M</text>
<text xml:space="preserve" transform="matrix(0 -1.0118 1.0534 0 37.10 883.26)" font-size="35" fill="#000">sCysC (mg/l)</text>
<rect x="1105.90" y="797.80" width="636.10" height="53.73" fill="#a2a1a6"/>
<rect x="1105.90" y="774.25" width="636.10" height="23.55" fill="#d3d3d3"/>
<clipPath id="c4"><rect x="0" y="0" width="1542.6" height="2112"/><rect x="1570.9" y="0" width="202.1" height="2112"/></clipPath>
<polyline clip-path="url(#c4)" class="ln" points="1167.2,818.5 1189.5,822.3 1233.5,822.3 1277.4,841.2 1647.7,765.4 1730.0,745.8" stroke="#a80000"/>
<g class="pt" stroke="#a80000"><circle cx="1167.2" cy="818.5" r="6.2"/><circle cx="1189.5" cy="822.3" r="6.2"/><circle cx="1233.5" cy="822.3" r="6.2"/><circle cx="1277.4" cy="841.2" r="6.2"/><circle cx="1647.7" cy="765.4" r="6.2"/><circle cx="1730.0" cy="745.8" r="6.2"/></g>
<polyline clip-path="url(#c4)" class="ln" points="1233.5,775.4 1277.4,744.5 1364.7,794.4 1518.6,829.2 1730.0,828.1" stroke="#7a0ea3"/>
<g class="pt" stroke="#7a0ea3"><circle cx="1233.5" cy="775.4" r="6.2"/><circle cx="1277.4" cy="744.5" r="6.2"/><circle cx="1364.7" cy="794.4" r="6.2"/><circle cx="1518.6" cy="829.2" r="6.2"/><circle cx="1730.0" cy="828.1" r="6.2"/></g>
<polyline clip-path="url(#c4)" class="ln" points="1233.5,876.1 1277.4,876.1 1647.7,753.1 1730.0,828.1" stroke="#7a0ea3"/>
<g class="pt" stroke="#7a0ea3"><circle cx="1233.5" cy="876.1" r="6.2"/><circle cx="1277.4" cy="876.1" r="6.2"/><circle cx="1647.7" cy="753.1" r="6.2"/><circle cx="1730.0" cy="828.1" r="6.2"/></g>
<polyline clip-path="url(#c4)" class="ln" points="1167.2,832.5 1189.5,839.8 1233.5,839.6 1277.4,841.2 1730.0,760.6" stroke="#7a0ea3"/>
<g class="pt" stroke="#7a0ea3"><circle cx="1167.2" cy="832.5" r="6.2"/><circle cx="1189.5" cy="839.8" r="6.2"/><circle cx="1233.5" cy="839.6" r="6.2"/><circle cx="1277.4" cy="841.2" r="6.2"/><circle cx="1730.0" cy="760.6" r="6.2"/></g>
<polyline clip-path="url(#c4)" class="ln" points="1189.5,853.5 1233.5,853.1" stroke="#7a0ea3"/>
<g class="pt" stroke="#7a0ea3"><circle cx="1189.5" cy="853.5" r="6.2"/><circle cx="1233.5" cy="853.1" r="6.2"/></g>
<polyline clip-path="url(#c4)" class="ln" points="1167.2,822.3 1189.5,812.7" stroke="#7a0ea3"/>
<g class="pt" stroke="#7a0ea3"><circle cx="1167.2" cy="822.3" r="6.2"/><circle cx="1189.5" cy="812.7" r="6.2"/></g>
<polyline clip-path="url(#c4)" class="ln" points="1167.2,780.8 1233.5,786.4 1277.4,777.1 1647.7,777.7 1730.0,797.3" stroke="#008000"/>
<g class="pt" stroke="#008000"><circle cx="1167.2" cy="780.8" r="6.2"/><circle cx="1233.5" cy="786.4" r="6.2"/><circle cx="1277.4" cy="777.1" r="6.2"/><circle cx="1647.7" cy="777.7" r="6.2"/><circle cx="1730.0" cy="797.3" r="6.2"/></g>
<polyline clip-path="url(#c4)" class="ln" points="1167.2,800.0 1189.5,807.1 1233.5,801.9 1277.4,796.2 1647.7,731.0 1730.0,760.6" stroke="#008000"/>
<g class="pt" stroke="#008000"><circle cx="1167.2" cy="800.0" r="6.2"/><circle cx="1189.5" cy="807.1" r="6.2"/><circle cx="1233.5" cy="801.9" r="6.2"/><circle cx="1277.4" cy="796.2" r="6.2"/><circle cx="1647.7" cy="731.0" r="6.2"/><circle cx="1730.0" cy="760.6" r="6.2"/></g>
<polyline clip-path="url(#c4)" class="ln" points="1167.2,803.1 1233.5,791.7 1277.4,801.2 1364.7,808.9 1647.7,806.0 1730.0,806.0" stroke="#008000"/>
<g class="pt" stroke="#008000"><circle cx="1167.2" cy="803.1" r="6.2"/><circle cx="1233.5" cy="791.7" r="6.2"/><circle cx="1277.4" cy="801.2" r="6.2"/><circle cx="1364.7" cy="808.9" r="6.2"/><circle cx="1647.7" cy="806.0" r="6.2"/><circle cx="1730.0" cy="806.0" r="6.2"/></g>
<polyline clip-path="url(#c4)" class="ln" points="1167.2,806.9 1189.5,812.7 1233.5,806.9 1277.4,805.0 1364.7,814.6 1647.7,818.3 1730.0,812.7" stroke="#008000"/>
<g class="pt" stroke="#008000"><circle cx="1167.2" cy="806.9" r="6.2"/><circle cx="1189.5" cy="812.7" r="6.2"/><circle cx="1233.5" cy="806.9" r="6.2"/><circle cx="1277.4" cy="805.0" r="6.2"/><circle cx="1364.7" cy="814.6" r="6.2"/><circle cx="1647.7" cy="818.3" r="6.2"/><circle cx="1730.0" cy="812.7" r="6.2"/></g>
<polyline clip-path="url(#c4)" class="ln" points="1167.2,810.8 1189.5,822.3 1233.5,812.7 1277.4,808.9 1364.7,808.9 1518.6,839.6" stroke="#008000"/>
<g class="pt" stroke="#008000"><circle cx="1167.2" cy="810.8" r="6.2"/><circle cx="1189.5" cy="822.3" r="6.2"/><circle cx="1233.5" cy="812.7" r="6.2"/><circle cx="1277.4" cy="808.9" r="6.2"/><circle cx="1364.7" cy="808.9" r="6.2"/><circle cx="1518.6" cy="839.6" r="6.2"/></g>
<polyline clip-path="url(#c4)" class="ln" points="1167.2,814.6 1189.5,829.0 1233.5,816.5 1277.4,808.9 1364.7,827.1 1647.7,834.4 1730.0,820.8" stroke="#008000"/>
<g class="pt" stroke="#008000"><circle cx="1167.2" cy="814.6" r="6.2"/><circle cx="1189.5" cy="829.0" r="6.2"/><circle cx="1233.5" cy="816.5" r="6.2"/><circle cx="1277.4" cy="808.9" r="6.2"/><circle cx="1364.7" cy="827.1" r="6.2"/><circle cx="1647.7" cy="834.4" r="6.2"/><circle cx="1730.0" cy="820.8" r="6.2"/></g>
<polyline clip-path="url(#c4)" class="ln" points="1167.2,818.5 1233.5,822.3 1277.4,814.4 1364.7,814.6 1730.0,835.4" stroke="#008000"/>
<g class="pt" stroke="#008000"><circle cx="1167.2" cy="818.5" r="6.2"/><circle cx="1233.5" cy="822.3" r="6.2"/><circle cx="1277.4" cy="814.4" r="6.2"/><circle cx="1364.7" cy="814.6" r="6.2"/><circle cx="1730.0" cy="835.4" r="6.2"/></g>
<polyline clip-path="url(#c4)" class="ln" points="1167.2,821.5 1189.5,831.9 1233.5,828.1 1277.4,827.1 1364.7,845.4 1518.6,831.9 1647.7,831.9 1730.0,828.1" stroke="#008000"/>
<g class="pt" stroke="#008000"><circle cx="1167.2" cy="821.5" r="6.2"/><circle cx="1189.5" cy="831.9" r="6.2"/><circle cx="1233.5" cy="828.1" r="6.2"/><circle cx="1277.4" cy="827.1" r="6.2"/><circle cx="1364.7" cy="845.4" r="6.2"/><circle cx="1518.6" cy="831.9" r="6.2"/><circle cx="1647.7" cy="831.9" r="6.2"/><circle cx="1730.0" cy="828.1" r="6.2"/></g>
<polyline clip-path="url(#c4)" class="ln" points="1167.2,849.2 1233.5,831.9 1277.4,831.9 1364.7,850.8 1518.6,835.8 1647.7,846.5 1730.0,820.8" stroke="#008000"/>
<g class="pt" stroke="#008000"><circle cx="1167.2" cy="849.2" r="6.2"/><circle cx="1233.5" cy="831.9" r="6.2"/><circle cx="1277.4" cy="831.9" r="6.2"/><circle cx="1364.7" cy="850.8" r="6.2"/><circle cx="1518.6" cy="835.8" r="6.2"/><circle cx="1647.7" cy="846.5" r="6.2"/><circle cx="1730.0" cy="820.8" r="6.2"/></g>
<polyline clip-path="url(#c4)" class="ln" points="1167.2,828.1 1233.5,836.3 1277.4,838.1 1364.7,855.0" stroke="#008000"/>
<g class="pt" stroke="#008000"><circle cx="1167.2" cy="828.1" r="6.2"/><circle cx="1233.5" cy="836.3" r="6.2"/><circle cx="1277.4" cy="838.1" r="6.2"/><circle cx="1364.7" cy="855.0" r="6.2"/></g>
<polyline clip-path="url(#c4)" class="ln" points="1233.5,854.4 1277.4,833.8 1364.7,827.1" stroke="#008000"/>
<g class="pt" stroke="#008000"><circle cx="1233.5" cy="854.4" r="6.2"/><circle cx="1277.4" cy="833.8" r="6.2"/><circle cx="1364.7" cy="827.1" r="6.2"/></g>
<polyline clip-path="url(#c4)" class="ln" points="1167.2,812.7 1189.5,807.1 1233.5,808.9 1277.4,810.8" stroke="#008000"/>
<g class="pt" stroke="#008000"><circle cx="1167.2" cy="812.7" r="6.2"/><circle cx="1189.5" cy="807.1" r="6.2"/><circle cx="1233.5" cy="808.9" r="6.2"/><circle cx="1277.4" cy="810.8" r="6.2"/></g>
<rect x="1099.65" y="578.70" width="6.70" height="391.10" fill="#000"/>
<rect x="1089.70" y="578.65" width="13.30" height="6.70" fill="#000"/>
<text transform="matrix(1.0312 0 0 1.0304 1066.77 593.80)" font-size="33" fill="#000">2</text>
<rect x="1089.70" y="770.85" width="13.30" height="6.70" fill="#000"/>
<text transform="matrix(1.0418 0 0 1.0418 1068.34 786.00)" font-size="33" fill="#000">1</text>
<rect x="1089.70" y="963.15" width="13.30" height="6.70" fill="#000"/>
<text transform="matrix(1.0476 0 0 1.0194 1066.49 978.05)" font-size="33" fill="#000">0</text>
<rect x="1142.40" y="1006.15" width="401.70" height="6.70" fill="#000"/>
<rect x="1537.60" y="998.80" width="6.50" height="21.40" fill="#000"/>
<rect x="1569.30" y="1006.15" width="175.50" height="6.70" fill="#000"/>
<rect x="1569.30" y="998.80" width="6.50" height="21.40" fill="#000"/>
<rect x="1164.40" y="1009.50" width="6.40" height="14.20" fill="#000"/>
<rect x="1186.30" y="1009.50" width="6.40" height="14.20" fill="#000"/>
<rect x="1230.30" y="1009.50" width="6.40" height="14.20" fill="#000"/>
<rect x="1274.10" y="1009.50" width="6.40" height="14.20" fill="#000"/>
<rect x="1361.80" y="1009.50" width="6.40" height="14.20" fill="#000"/>
<rect x="1515.40" y="1009.50" width="6.40" height="14.20" fill="#000"/>
<rect x="1645.00" y="1009.50" width="6.40" height="14.20" fill="#000"/>
<rect x="1727.20" y="1009.50" width="6.40" height="14.20" fill="#000"/>
<text transform="matrix(0.9690 0 0 1.0286 1153.92 1060.60)" font-size="33" fill="#000">4</text>
<text transform="matrix(1.0585 0 0 1.0065 1175.84 1060.35)" font-size="33" fill="#000">8</text>
<text transform="matrix(0.9761 0 0 1.0065 1212.35 1060.35)" font-size="33" fill="#000">16</text>
<text transform="matrix(0.9577 0 0 1.0174 1255.74 1060.60)" font-size="33" fill="#000">24</text>
<text transform="matrix(0.9714 0 0 1.0065 1343.01 1060.35)" font-size="33" fill="#000">48</text>
<text transform="matrix(0.9645 0 0 0.9750 1491.55 1060.60)" font-size="33" fill="#000">72h</text>
<text transform="matrix(1.0286 0 0 1.0286 1641.10 1060.60)" font-size="33" fill="#000080">1</text>
<text transform="matrix(0.9736 0 0 1.0174 1693.43 1060.60)" font-size="33" fill="#000080">2-7M</text>
<text xml:space="preserve" transform="matrix(0 -0.9983 1.0290 0 994.58 876.95)" font-size="35" fill="#000">sCysC(mg/l)</text>
<rect x="147.10" y="1447.30" width="635.90" height="16.99" fill="#a2a1a6"/>
<clipPath id="c5"><rect x="0" y="0" width="583.4" height="2112"/><rect x="611.5" y="0" width="1161.5" height="2112"/></clipPath>
<polyline clip-path="url(#c5)" class="ln" points="209.1,1365.7 318.7,1333.2 406.0,1235.4" stroke="#000"/>
<g class="pt" stroke="#000"><circle cx="209.1" cy="1365.7" r="6.2"/><circle cx="318.7" cy="1333.2" r="6.2"/><circle cx="406.0" cy="1235.4" r="6.2"/></g>
<polyline clip-path="url(#c5)" class="ln" points="230.1,1425.6 274.5,1323.7 318.7,1263.4 694.9,1448.9 783.0,1457.3" stroke="#000"/>
<g class="pt" stroke="#000"><circle cx="230.1" cy="1425.6" r="6.2"/><circle cx="274.5" cy="1323.7" r="6.2"/><circle cx="318.7" cy="1263.4" r="6.2"/><circle cx="694.9" cy="1448.9" r="6.2"/><circle cx="783.0" cy="1457.3" r="6.2"/></g>
<polyline clip-path="url(#c5)" class="ln" points="209.1,1414.8 230.1,1428.0 274.5,1386.4 318.7,1379.0 406.0,1379.1 694.9,1456.0" stroke="#000"/>
<g class="pt" stroke="#000"><circle cx="209.1" cy="1414.8" r="6.2"/><circle cx="230.1" cy="1428.0" r="6.2"/><circle cx="274.5" cy="1386.4" r="6.2"/><circle cx="318.7" cy="1379.0" r="6.2"/><circle cx="406.0" cy="1379.1" r="6.2"/><circle cx="694.9" cy="1456.0" r="6.2"/></g>
<polyline clip-path="url(#c5)" class="ln" points="209.1,1435.5 230.1,1439.3 274.5,1432.3 318.7,1436.8 406.0,1444.3 559.6,1445.4" stroke="#000"/>
<g class="pt" stroke="#000"><circle cx="209.1" cy="1435.5" r="6.2"/><circle cx="230.1" cy="1439.3" r="6.2"/><circle cx="274.5" cy="1432.3" r="6.2"/><circle cx="318.7" cy="1436.8" r="6.2"/><circle cx="406.0" cy="1444.3" r="6.2"/><circle cx="559.6" cy="1445.4" r="6.2"/></g>
<polyline clip-path="url(#c5)" class="ln" points="209.1,1441.8 230.1,1446.7 274.5,1440.9 318.7,1442.8 406.0,1444.0 559.6,1445.4" stroke="#000"/>
<g class="pt" stroke="#000"><circle cx="209.1" cy="1441.8" r="6.2"/><circle cx="230.1" cy="1446.7" r="6.2"/><circle cx="274.5" cy="1440.9" r="6.2"/><circle cx="318.7" cy="1442.8" r="6.2"/><circle cx="406.0" cy="1444.0" r="6.2"/><circle cx="559.6" cy="1445.4" r="6.2"/></g>
<polyline clip-path="url(#c5)" class="ln" points="209.1,1444.8 230.1,1448.6 274.5,1443.8 318.7,1445.7 406.0,1446.7" stroke="#000"/>
<g class="pt" stroke="#000"><circle cx="209.1" cy="1444.8" r="6.2"/><circle cx="230.1" cy="1448.6" r="6.2"/><circle cx="274.5" cy="1443.8" r="6.2"/><circle cx="318.7" cy="1445.7" r="6.2"/><circle cx="406.0" cy="1446.7" r="6.2"/></g>
<polyline clip-path="url(#c5)" class="ln" points="209.1,1447.6 230.1,1450.5 274.5,1446.7 318.7,1448.6 406.0,1448.6" stroke="#000"/>
<g class="pt" stroke="#000"><circle cx="209.1" cy="1447.6" r="6.2"/><circle cx="230.1" cy="1450.5" r="6.2"/><circle cx="274.5" cy="1446.7" r="6.2"/><circle cx="318.7" cy="1448.6" r="6.2"/><circle cx="406.0" cy="1448.6" r="6.2"/></g>
<polyline clip-path="url(#c5)" class="ln" points="209.1,1450.5 230.1,1452.5 274.5,1449.6 318.7,1451.5 406.0,1455.3" stroke="#000"/>
<g class="pt" stroke="#000"><circle cx="209.1" cy="1450.5" r="6.2"/><circle cx="230.1" cy="1452.5" r="6.2"/><circle cx="274.5" cy="1449.6" r="6.2"/><circle cx="318.7" cy="1451.5" r="6.2"/><circle cx="406.0" cy="1455.3" r="6.2"/></g>
<g class="pt" stroke="#000"><circle cx="559.6" cy="1453.7" r="6.2"/></g>
<polyline clip-path="url(#c5)" class="ln" points="209.1,1453.4 230.1,1454.4 274.5,1452.5 318.7,1454.4 406.0,1458.7 559.6,1460.8 694.9,1460.1 783.0,1460.8" stroke="#000"/>
<g class="pt" stroke="#000"><circle cx="209.1" cy="1453.4" r="6.2"/><circle cx="230.1" cy="1454.4" r="6.2"/><circle cx="274.5" cy="1452.5" r="6.2"/><circle cx="318.7" cy="1454.4" r="6.2"/><circle cx="406.0" cy="1458.7" r="6.2"/><circle cx="559.6" cy="1460.8" r="6.2"/><circle cx="694.9" cy="1460.1" r="6.2"/><circle cx="783.0" cy="1460.8" r="6.2"/></g>
<polyline clip-path="url(#c5)" class="ln" points="209.1,1456.3 230.1,1456.3 274.5,1455.3 318.7,1456.3 406.0,1459.7 694.9,1460.1 783.0,1460.8" stroke="#000"/>
<g class="pt" stroke="#000"><circle cx="209.1" cy="1456.3" r="6.2"/><circle cx="230.1" cy="1456.3" r="6.2"/><circle cx="274.5" cy="1455.3" r="6.2"/><circle cx="318.7" cy="1456.3" r="6.2"/><circle cx="406.0" cy="1459.7" r="6.2"/><circle cx="694.9" cy="1460.1" r="6.2"/><circle cx="783.0" cy="1460.8" r="6.2"/></g>
<g class="pt" stroke="#000"><circle cx="694.9" cy="1456.0" r="6.2"/></g>
<polyline clip-path="url(#c5)" class="ln" points="209.1,1459.2 230.1,1458.2 274.5,1458.2 318.7,1459.2 406.0,1459.2 559.6,1460.8" stroke="#000"/>
<g class="pt" stroke="#000"><circle cx="209.1" cy="1459.2" r="6.2"/><circle cx="230.1" cy="1458.2" r="6.2"/><circle cx="274.5" cy="1458.2" r="6.2"/><circle cx="318.7" cy="1459.2" r="6.2"/><circle cx="406.0" cy="1459.2" r="6.2"/><circle cx="559.6" cy="1460.8" r="6.2"/></g>
<polyline clip-path="url(#c5)" class="ln" points="209.1,1462.1 230.1,1461.1 274.5,1461.1 318.7,1462.1 406.0,1460.1 694.9,1462.1 783.0,1460.8" stroke="#000"/>
<g class="pt" stroke="#000"><circle cx="209.1" cy="1462.1" r="6.2"/><circle cx="230.1" cy="1461.1" r="6.2"/><circle cx="274.5" cy="1461.1" r="6.2"/><circle cx="318.7" cy="1462.1" r="6.2"/><circle cx="406.0" cy="1460.1" r="6.2"/><circle cx="694.9" cy="1462.1" r="6.2"/><circle cx="783.0" cy="1460.8" r="6.2"/></g>
<polyline clip-path="url(#c5)" class="ln" points="209.1,1464.3 230.1,1463.0 274.5,1464.0 318.7,1464.0 406.0,1464.0" stroke="#000"/>
<g class="pt" stroke="#000"><circle cx="209.1" cy="1464.3" r="6.2"/><circle cx="230.1" cy="1463.0" r="6.2"/><circle cx="274.5" cy="1464.0" r="6.2"/><circle cx="318.7" cy="1464.0" r="6.2"/><circle cx="406.0" cy="1464.0" r="6.2"/></g>
<polyline clip-path="url(#c5)" class="ln" points="274.5,1466.4 318.7,1465.9" stroke="#000"/>
<g class="pt" stroke="#000"><circle cx="274.5" cy="1466.4" r="6.2"/><circle cx="318.7" cy="1465.9" r="6.2"/></g>
<polyline clip-path="url(#c5)" class="ln" points="230.1,1400.6 274.5,1371.5" stroke="#ff0000"/>
<g class="pt" stroke="#ff0000"><circle cx="230.1" cy="1400.6" r="6.2"/><circle cx="274.5" cy="1371.5" r="6.2"/></g>
<rect x="140.85" y="1078.20" width="6.70" height="391.50" fill="#000"/>
<rect x="131.00" y="1078.25" width="13.20" height="6.70" fill="#000"/>
<text transform="matrix(0.9986 0 0 1.0452 54.10 1093.44)" font-size="33" fill="#000">4000</text>
<rect x="131.00" y="1174.25" width="13.20" height="6.70" fill="#000"/>
<text transform="matrix(0.9979 0 0 1.0452 54.15 1189.44)" font-size="33" fill="#000">3000</text>
<rect x="131.00" y="1270.25" width="13.20" height="6.70" fill="#000"/>
<text transform="matrix(1.0014 0 0 1.0452 53.90 1285.44)" font-size="33" fill="#000">2000</text>
<rect x="131.00" y="1366.45" width="13.20" height="6.70" fill="#000"/>
<text transform="matrix(0.9714 0 0 1.0452 56.06 1381.64)" font-size="33" fill="#000">1000</text>
<rect x="183.70" y="1505.45" width="401.30" height="6.70" fill="#000"/>
<rect x="578.80" y="1498.10" width="6.20" height="21.40" fill="#000"/>
<rect x="610.40" y="1505.45" width="176.20" height="6.70" fill="#000"/>
<rect x="610.40" y="1498.10" width="6.50" height="21.40" fill="#000"/>
<rect x="205.20" y="1508.80" width="6.40" height="13.90" fill="#000"/>
<rect x="227.20" y="1508.80" width="6.40" height="13.90" fill="#000"/>
<rect x="271.20" y="1508.80" width="6.40" height="13.90" fill="#000"/>
<rect x="315.20" y="1508.80" width="6.40" height="13.90" fill="#000"/>
<rect x="402.80" y="1508.80" width="6.40" height="13.90" fill="#000"/>
<rect x="556.50" y="1508.80" width="6.40" height="13.90" fill="#000"/>
<rect x="691.70" y="1508.80" width="6.40" height="13.90" fill="#000"/>
<rect x="780.20" y="1508.80" width="6.40" height="13.90" fill="#000"/>
<text transform="matrix(0.9408 0 0 1.0286 195.23 1559.30)" font-size="33" fill="#000">4</text>
<text transform="matrix(1.0338 0 0 1.0065 217.07 1559.05)" font-size="33" fill="#000">8</text>
<text transform="matrix(0.9851 0 0 1.0065 252.83 1559.05)" font-size="33" fill="#000">16</text>
<text transform="matrix(0.9577 0 0 1.0174 296.54 1559.30)" font-size="33" fill="#000">24</text>
<text transform="matrix(0.9686 0 0 1.0065 384.42 1559.05)" font-size="33" fill="#000">48</text>
<text transform="matrix(0.9607 0 0 0.9750 529.46 1559.30)" font-size="33" fill="#000">72h</text>
<text transform="matrix(1.0286 0 0 1.0286 688.20 1559.30)" font-size="33" fill="#000080">1</text>
<text transform="matrix(0.9833 0 0 1.0174 746.22 1559.30)" font-size="33" fill="#000080">2-7M</text>
<text xml:space="preserve" transform="matrix(0 -1.0818 1.0000 0 32.75 1363.35)" font-size="35" fill="#000">sCK (U/L)</text>
<rect x="1102.50" y="1445.51" width="639.50" height="16.99" fill="#a2a1a6"/>
<clipPath id="c6"><rect x="0" y="0" width="1537.7" height="2112"/><rect x="1565.2" y="0" width="207.8" height="2112"/></clipPath>
<polyline clip-path="url(#c6)" class="ln" points="1163.8,1441.3 1360.4,1170.0 1647.7,1449.9 1735.4,1461.4" stroke="#a80000"/>
<g class="pt" stroke="#a80000"><circle cx="1163.8" cy="1441.3" r="6.2"/><circle cx="1360.4" cy="1170.0" r="6.2"/><circle cx="1647.7" cy="1449.9" r="6.2"/><circle cx="1735.4" cy="1461.4" r="6.2"/></g>
<polyline clip-path="url(#c6)" class="ln" points="1185.7,1441.3 1229.4,1424.3 1273.1,1431.3 1360.4,1423.0 1513.2,1423.0 1647.7,1449.0 1735.4,1448.0" stroke="#7a0ea3"/>
<g class="pt" stroke="#7a0ea3"><circle cx="1185.7" cy="1441.3" r="6.2"/><circle cx="1229.4" cy="1424.3" r="6.2"/><circle cx="1273.1" cy="1431.3" r="6.2"/><circle cx="1360.4" cy="1423.0" r="6.2"/><circle cx="1513.2" cy="1423.0" r="6.2"/><circle cx="1647.7" cy="1449.0" r="6.2"/><circle cx="1735.4" cy="1448.0" r="6.2"/></g>
<polyline clip-path="url(#c6)" class="ln" points="1185.7,1459.0 1229.4,1454.7" stroke="#7a0ea3"/>
<g class="pt" stroke="#7a0ea3"><circle cx="1185.7" cy="1459.0" r="6.2"/><circle cx="1229.4" cy="1454.7" r="6.2"/></g>
<polyline clip-path="url(#c6)" class="ln" points="1163.8,1428.8 1185.7,1403.1 1229.4,1367.4 1273.1,1351.5" stroke="#008000"/>
<g class="pt" stroke="#008000"><circle cx="1163.8" cy="1428.8" r="6.2"/><circle cx="1185.7" cy="1403.1" r="6.2"/><circle cx="1229.4" cy="1367.4" r="6.2"/><circle cx="1273.1" cy="1351.5" r="6.2"/></g>
<polyline clip-path="url(#c6)" class="ln" points="1185.7,1441.3 1229.4,1412.3 1273.1,1208.5 1360.4,1258.4" stroke="#008000"/>
<g class="pt" stroke="#008000"><circle cx="1185.7" cy="1441.3" r="6.2"/><circle cx="1229.4" cy="1412.3" r="6.2"/><circle cx="1273.1" cy="1208.5" r="6.2"/><circle cx="1360.4" cy="1258.4" r="6.2"/></g>
<polyline clip-path="url(#c6)" class="ln" points="1229.4,1436.8 1360.4,1358.6 1513.2,1218.6 1647.7,1452.8" stroke="#008000"/>
<g class="pt" stroke="#008000"><circle cx="1229.4" cy="1436.8" r="6.2"/><circle cx="1360.4" cy="1358.6" r="6.2"/><circle cx="1513.2" cy="1218.6" r="6.2"/><circle cx="1647.7" cy="1452.8" r="6.2"/></g>
<polyline clip-path="url(#c6)" class="ln" points="1163.8,1441.3 1185.7,1442.2 1229.4,1436.8 1273.1,1436.8 1360.4,1440.9 1647.7,1443.3 1735.4,1446.5" stroke="#008000"/>
<g class="pt" stroke="#008000"><circle cx="1163.8" cy="1441.3" r="6.2"/><circle cx="1185.7" cy="1442.2" r="6.2"/><circle cx="1229.4" cy="1436.8" r="6.2"/><circle cx="1273.1" cy="1436.8" r="6.2"/><circle cx="1360.4" cy="1440.9" r="6.2"/><circle cx="1647.7" cy="1443.3" r="6.2"/><circle cx="1735.4" cy="1446.5" r="6.2"/></g>
<polyline clip-path="url(#c6)" class="ln" points="1163.8,1445.1 1185.7,1446.1 1229.4,1444.2 1273.1,1445.1 1360.4,1445.1" stroke="#008000"/>
<g class="pt" stroke="#008000"><circle cx="1163.8" cy="1445.1" r="6.2"/><circle cx="1185.7" cy="1446.1" r="6.2"/><circle cx="1229.4" cy="1444.2" r="6.2"/><circle cx="1273.1" cy="1445.1" r="6.2"/><circle cx="1360.4" cy="1445.1" r="6.2"/></g>
<polyline clip-path="url(#c6)" class="ln" points="1163.8,1448.0 1185.7,1449.0 1229.4,1447.0 1273.1,1448.0 1360.4,1448.0 1647.7,1452.0 1735.4,1449.9" stroke="#008000"/>
<g class="pt" stroke="#008000"><circle cx="1163.8" cy="1448.0" r="6.2"/><circle cx="1185.7" cy="1449.0" r="6.2"/><circle cx="1229.4" cy="1447.0" r="6.2"/><circle cx="1273.1" cy="1448.0" r="6.2"/><circle cx="1360.4" cy="1448.0" r="6.2"/><circle cx="1647.7" cy="1452.0" r="6.2"/><circle cx="1735.4" cy="1449.9" r="6.2"/></g>
<polyline clip-path="url(#c6)" class="ln" points="1163.8,1450.9 1185.7,1451.8 1229.4,1449.9 1273.1,1450.9 1360.4,1450.9" stroke="#008000"/>
<g class="pt" stroke="#008000"><circle cx="1163.8" cy="1450.9" r="6.2"/><circle cx="1185.7" cy="1451.8" r="6.2"/><circle cx="1229.4" cy="1449.9" r="6.2"/><circle cx="1273.1" cy="1450.9" r="6.2"/><circle cx="1360.4" cy="1450.9" r="6.2"/></g>
<polyline clip-path="url(#c6)" class="ln" points="1163.8,1453.8 1185.7,1454.7 1229.4,1452.8 1273.1,1453.8 1360.4,1453.8 1647.7,1456.6 1735.4,1454.7" stroke="#008000"/>
<g class="pt" stroke="#008000"><circle cx="1163.8" cy="1453.8" r="6.2"/><circle cx="1185.7" cy="1454.7" r="6.2"/><circle cx="1229.4" cy="1452.8" r="6.2"/><circle cx="1273.1" cy="1453.8" r="6.2"/><circle cx="1360.4" cy="1453.8" r="6.2"/><circle cx="1647.7" cy="1456.6" r="6.2"/><circle cx="1735.4" cy="1454.7" r="6.2"/></g>
<polyline clip-path="url(#c6)" class="ln" points="1163.8,1456.6 1185.7,1456.6 1229.4,1455.7 1273.1,1456.6 1360.4,1456.6" stroke="#008000"/>
<g class="pt" stroke="#008000"><circle cx="1163.8" cy="1456.6" r="6.2"/><circle cx="1185.7" cy="1456.6" r="6.2"/><circle cx="1229.4" cy="1455.7" r="6.2"/><circle cx="1273.1" cy="1456.6" r="6.2"/><circle cx="1360.4" cy="1456.6" r="6.2"/></g>
<polyline clip-path="url(#c6)" class="ln" points="1163.8,1459.5 1185.7,1459.5 1229.4,1458.5 1273.1,1459.5 1360.4,1459.5 1647.7,1460.5 1735.4,1458.5" stroke="#008000"/>
<g class="pt" stroke="#008000"><circle cx="1163.8" cy="1459.5" r="6.2"/><circle cx="1185.7" cy="1459.5" r="6.2"/><circle cx="1229.4" cy="1458.5" r="6.2"/><circle cx="1273.1" cy="1459.5" r="6.2"/><circle cx="1360.4" cy="1459.5" r="6.2"/><circle cx="1647.7" cy="1460.5" r="6.2"/><circle cx="1735.4" cy="1458.5" r="6.2"/></g>
<polyline clip-path="url(#c6)" class="ln" points="1163.8,1462.4 1229.4,1461.4 1273.1,1462.4 1360.4,1462.4" stroke="#008000"/>
<g class="pt" stroke="#008000"><circle cx="1163.8" cy="1462.4" r="6.2"/><circle cx="1229.4" cy="1461.4" r="6.2"/><circle cx="1273.1" cy="1462.4" r="6.2"/><circle cx="1360.4" cy="1462.4" r="6.2"/></g>
<polyline clip-path="url(#c6)" class="ln" points="1229.4,1464.3 1273.1,1465.3" stroke="#008000"/>
<g class="pt" stroke="#008000"><circle cx="1229.4" cy="1464.3" r="6.2"/><circle cx="1273.1" cy="1465.3" r="6.2"/></g>
<polyline clip-path="url(#c6)" class="ln" points="1647.7,1464.0 1735.4,1462.4" stroke="#008000"/>
<g class="pt" stroke="#008000"><circle cx="1647.7" cy="1464.0" r="6.2"/><circle cx="1735.4" cy="1462.4" r="6.2"/></g>
<polyline clip-path="url(#c6)" class="ln" points="1647.7,1462.4 1735.4,1460.5" stroke="#008000"/>
<g class="pt" stroke="#008000"><circle cx="1647.7" cy="1462.4" r="6.2"/><circle cx="1735.4" cy="1460.5" r="6.2"/></g>
<polyline clip-path="url(#c6)" class="ln" points="1647.7,1454.7 1735.4,1452.8" stroke="#008000"/>
<g class="pt" stroke="#008000"><circle cx="1647.7" cy="1454.7" r="6.2"/><circle cx="1735.4" cy="1452.8" r="6.2"/></g>
<rect x="1096.25" y="1077.40" width="6.70" height="390.10" fill="#000"/>
<rect x="1086.40" y="1077.45" width="13.20" height="6.70" fill="#000"/>
<text transform="matrix(0.9958 0 0 1.0452 1009.70 1092.64)" font-size="33" fill="#000">4000</text>
<rect x="1086.40" y="1173.05" width="13.20" height="6.70" fill="#000"/>
<text transform="matrix(0.9951 0 0 1.0452 1009.75 1188.24)" font-size="33" fill="#000">3000</text>
<rect x="1086.40" y="1268.95" width="13.20" height="6.70" fill="#000"/>
<text transform="matrix(0.9986 0 0 1.0452 1009.50 1284.14)" font-size="33" fill="#000">2000</text>
<rect x="1086.40" y="1365.05" width="13.20" height="6.70" fill="#000"/>
<text transform="matrix(0.9686 0 0 1.0452 1011.66 1380.24)" font-size="33" fill="#000">1000</text>
<rect x="1138.70" y="1503.15" width="399.90" height="6.70" fill="#000"/>
<rect x="1532.10" y="1495.80" width="6.50" height="21.40" fill="#000"/>
<rect x="1563.80" y="1503.15" width="174.70" height="6.70" fill="#000"/>
<rect x="1563.80" y="1495.80" width="6.50" height="21.40" fill="#000"/>
<rect x="1160.60" y="1506.50" width="6.40" height="14.10" fill="#000"/>
<rect x="1182.30" y="1506.50" width="6.40" height="14.10" fill="#000"/>
<rect x="1226.50" y="1506.50" width="6.40" height="14.10" fill="#000"/>
<rect x="1270.50" y="1506.50" width="6.40" height="14.10" fill="#000"/>
<rect x="1358.00" y="1506.50" width="6.40" height="14.10" fill="#000"/>
<rect x="1510.10" y="1506.50" width="6.40" height="14.10" fill="#000"/>
<rect x="1645.00" y="1506.50" width="6.40" height="14.10" fill="#000"/>
<rect x="1732.20" y="1506.50" width="6.40" height="14.10" fill="#000"/>
<text transform="matrix(0.9690 0 0 1.0374 1150.22 1557.50)" font-size="33" fill="#000">4</text>
<text transform="matrix(0.9969 0 0 1.0151 1172.60 1557.25)" font-size="33" fill="#000">8</text>
<text transform="matrix(1.0119 0 0 1.0151 1207.28 1557.25)" font-size="33" fill="#000">16</text>
<text transform="matrix(0.9859 0 0 1.0261 1251.21 1557.50)" font-size="33" fill="#000">24</text>
<text transform="matrix(0.9914 0 0 1.0151 1338.60 1557.25)" font-size="33" fill="#000">48</text>
<text transform="matrix(0.9645 0 0 0.9833 1482.05 1557.50)" font-size="33" fill="#000">72h</text>
<text transform="matrix(1.0374 0 0 1.0374 1640.99 1557.50)" font-size="33" fill="#000080">1</text>
<text transform="matrix(0.9778 0 0 1.0261 1698.82 1557.50)" font-size="33" fill="#000080">2-7M</text>
<text xml:space="preserve" transform="matrix(0 -1.0843 1.0338 0 988.50 1362.06)" font-size="35" fill="#000">sCK (U/L)</text>
<rect x="139.70" y="1768.67" width="621.90" height="68.29" fill="#a2a1a6"/>
<rect x="139.70" y="1701.13" width="621.90" height="67.54" fill="#d3d3d3"/>
<clipPath id="c7"><rect x="0" y="0" width="566.5" height="2112"/><rect x="593.2" y="0" width="1179.8" height="2112"/></clipPath>
<polyline clip-path="url(#c7)" class="ln" points="200.1,1719.5 221.6,1659.9 264.5,1779.5" stroke="#000"/>
<g class="pt" stroke="#000"><circle cx="200.1" cy="1719.5" r="6.2"/><circle cx="221.6" cy="1659.9" r="6.2"/><circle cx="264.5" cy="1779.5" r="6.2"/></g>
<polyline clip-path="url(#c7)" class="ln" points="200.1,1723.6 264.5,1698.5 307.5,1712.4 393.1,1749.5 543.2,1769.4 675.4,1785.9" stroke="#000"/>
<g class="pt" stroke="#000"><circle cx="200.1" cy="1723.6" r="6.2"/><circle cx="264.5" cy="1698.5" r="6.2"/><circle cx="307.5" cy="1712.4" r="6.2"/><circle cx="393.1" cy="1749.5" r="6.2"/><circle cx="543.2" cy="1769.4" r="6.2"/><circle cx="675.4" cy="1785.9" r="6.2"/></g>
<polyline clip-path="url(#c7)" class="ln" points="264.5,1687.2 307.5,1687.2 393.1,1735.3 543.2,1719.9" stroke="#000"/>
<g class="pt" stroke="#000"><circle cx="264.5" cy="1687.2" r="6.2"/><circle cx="307.5" cy="1687.2" r="6.2"/><circle cx="393.1" cy="1735.3" r="6.2"/><circle cx="543.2" cy="1719.9" r="6.2"/></g>
<polyline clip-path="url(#c7)" class="ln" points="200.1,1736.0 221.6,1751.0 264.5,1787.4 307.5,1745.0 393.1,1749.5 543.2,1769.4 761.1,1664.7" stroke="#000"/>
<g class="pt" stroke="#000"><circle cx="200.1" cy="1736.0" r="6.2"/><circle cx="221.6" cy="1751.0" r="6.2"/><circle cx="264.5" cy="1787.4" r="6.2"/><circle cx="307.5" cy="1745.0" r="6.2"/><circle cx="393.1" cy="1749.5" r="6.2"/><circle cx="543.2" cy="1769.4" r="6.2"/><circle cx="761.1" cy="1664.7" r="6.2"/></g>
<polyline clip-path="url(#c7)" class="ln" points="200.1,1755.9 221.6,1765.7 264.5,1791.2 307.5,1769.4 393.1,1770.9" stroke="#000"/>
<g class="pt" stroke="#000"><circle cx="200.1" cy="1755.9" r="6.2"/><circle cx="221.6" cy="1765.7" r="6.2"/><circle cx="264.5" cy="1791.2" r="6.2"/><circle cx="307.5" cy="1769.4" r="6.2"/><circle cx="393.1" cy="1770.9" r="6.2"/></g>
<polyline clip-path="url(#c7)" class="ln" points="200.1,1773.2 221.6,1798.7 264.5,1794.9 307.5,1784.4 393.1,1777.7 761.1,1675.6" stroke="#000"/>
<g class="pt" stroke="#000"><circle cx="200.1" cy="1773.2" r="6.2"/><circle cx="221.6" cy="1798.7" r="6.2"/><circle cx="264.5" cy="1794.9" r="6.2"/><circle cx="307.5" cy="1784.4" r="6.2"/><circle cx="393.1" cy="1777.7" r="6.2"/><circle cx="761.1" cy="1675.6" r="6.2"/></g>
<polyline clip-path="url(#c7)" class="ln" points="200.1,1779.9 221.6,1808.4 264.5,1798.7 307.5,1791.2 393.1,1776.2" stroke="#000"/>
<g class="pt" stroke="#000"><circle cx="200.1" cy="1779.9" r="6.2"/><circle cx="221.6" cy="1808.4" r="6.2"/><circle cx="264.5" cy="1798.7" r="6.2"/><circle cx="307.5" cy="1791.2" r="6.2"/><circle cx="393.1" cy="1776.2" r="6.2"/></g>
<polyline clip-path="url(#c7)" class="ln" points="200.1,1785.9 221.6,1809.9 264.5,1802.4 307.5,1794.9 393.1,1791.2" stroke="#000"/>
<g class="pt" stroke="#000"><circle cx="200.1" cy="1785.9" r="6.2"/><circle cx="221.6" cy="1809.9" r="6.2"/><circle cx="264.5" cy="1802.4" r="6.2"/><circle cx="307.5" cy="1794.9" r="6.2"/><circle cx="393.1" cy="1791.2" r="6.2"/></g>
<polyline clip-path="url(#c7)" class="ln" points="200.1,1795.7 264.5,1806.2 307.5,1798.7 393.1,1770.9" stroke="#000"/>
<g class="pt" stroke="#000"><circle cx="200.1" cy="1795.7" r="6.2"/><circle cx="264.5" cy="1806.2" r="6.2"/><circle cx="307.5" cy="1798.7" r="6.2"/><circle cx="393.1" cy="1770.9" r="6.2"/></g>
<polyline clip-path="url(#c7)" class="ln" points="200.1,1811.8 264.5,1809.6 307.5,1802.4 393.1,1808.4 675.4,1803.9" stroke="#000"/>
<g class="pt" stroke="#000"><circle cx="200.1" cy="1811.8" r="6.2"/><circle cx="264.5" cy="1809.6" r="6.2"/><circle cx="307.5" cy="1802.4" r="6.2"/><circle cx="393.1" cy="1808.4" r="6.2"/><circle cx="675.4" cy="1803.9" r="6.2"/></g>
<polyline clip-path="url(#c7)" class="ln" points="393.1,1791.2 543.2,1798.7" stroke="#000"/>
<g class="pt" stroke="#000"><circle cx="393.1" cy="1791.2" r="6.2"/><circle cx="543.2" cy="1798.7" r="6.2"/></g>
<polyline clip-path="url(#c7)" class="ln" points="200.1,1832.1 264.5,1840.7 307.5,1832.1 393.1,1813.3" stroke="#000"/>
<g class="pt" stroke="#000"><circle cx="200.1" cy="1832.1" r="6.2"/><circle cx="264.5" cy="1840.7" r="6.2"/><circle cx="307.5" cy="1832.1" r="6.2"/><circle cx="393.1" cy="1813.3" r="6.2"/></g>
<g class="pt" stroke="#000"><circle cx="200.1" cy="1847.1" r="6.2"/></g>
<polyline clip-path="url(#c7)" class="ln" points="264.5,1833.2 307.5,1806.2 393.1,1791.2" stroke="#000"/>
<g class="pt" stroke="#000"><circle cx="264.5" cy="1833.2" r="6.2"/><circle cx="307.5" cy="1806.2" r="6.2"/><circle cx="393.1" cy="1791.2" r="6.2"/></g>
<polyline clip-path="url(#c7)" class="ln" points="264.5,1783.7 307.5,1826.8 393.1,1808.4" stroke="#000"/>
<g class="pt" stroke="#000"><circle cx="264.5" cy="1783.7" r="6.2"/><circle cx="307.5" cy="1826.8" r="6.2"/><circle cx="393.1" cy="1808.4" r="6.2"/></g>
<polyline clip-path="url(#c7)" class="ln" points="264.5,1768.7 307.5,1809.6" stroke="#000"/>
<g class="pt" stroke="#000"><circle cx="264.5" cy="1768.7" r="6.2"/><circle cx="307.5" cy="1809.6" r="6.2"/></g>
<polyline clip-path="url(#c7)" class="ln" points="264.5,1776.2 307.5,1787.4 393.1,1779.9" stroke="#000"/>
<g class="pt" stroke="#000"><circle cx="264.5" cy="1776.2" r="6.2"/><circle cx="307.5" cy="1787.4" r="6.2"/><circle cx="393.1" cy="1779.9" r="6.2"/></g>
<polyline clip-path="url(#c7)" class="ln" points="264.5,1796.8 307.5,1804.3 393.1,1787.4" stroke="#000"/>
<g class="pt" stroke="#000"><circle cx="264.5" cy="1796.8" r="6.2"/><circle cx="307.5" cy="1804.3" r="6.2"/><circle cx="393.1" cy="1787.4" r="6.2"/></g>
<polyline clip-path="url(#c7)" class="ln" points="264.5,1789.3 307.5,1800.6 393.1,1776.2" stroke="#000"/>
<g class="pt" stroke="#000"><circle cx="264.5" cy="1789.3" r="6.2"/><circle cx="307.5" cy="1800.6" r="6.2"/><circle cx="393.1" cy="1776.2" r="6.2"/></g>
<polyline clip-path="url(#c7)" class="ln" points="264.5,1804.3 307.5,1808.1 393.1,1791.2" stroke="#000"/>
<g class="pt" stroke="#000"><circle cx="264.5" cy="1804.3" r="6.2"/><circle cx="307.5" cy="1808.1" r="6.2"/><circle cx="393.1" cy="1791.2" r="6.2"/></g>
<polyline clip-path="url(#c7)" class="ln" points="200.1,1761.2 221.6,1788.9 264.5,1783.7 307.5,1732.6" stroke="#000"/>
<g class="pt" stroke="#000"><circle cx="200.1" cy="1761.2" r="6.2"/><circle cx="221.6" cy="1788.9" r="6.2"/><circle cx="264.5" cy="1783.7" r="6.2"/><circle cx="307.5" cy="1732.6" r="6.2"/></g>
<polyline clip-path="url(#c7)" class="ln" points="221.6,1788.9 264.5,1768.7" stroke="#ff0000"/>
<g class="pt" stroke="#ff0000"><circle cx="221.6" cy="1788.9" r="6.2"/><circle cx="264.5" cy="1768.7" r="6.2"/></g>
<rect x="133.45" y="1581.20" width="6.70" height="383.00" fill="#000"/>
<rect x="123.30" y="1581.25" width="13.50" height="6.70" fill="#000"/>
<text transform="matrix(0.9714 0 0 1.0217 83.86 1596.30)" font-size="33" fill="#000">12</text>
<rect x="123.30" y="1731.55" width="13.50" height="6.70" fill="#000"/>
<text transform="matrix(0.9785 0 0 1.0108 101.22 1746.35)" font-size="33" fill="#000">8</text>
<rect x="123.30" y="1881.75" width="13.50" height="6.70" fill="#000"/>
<text transform="matrix(0.9690 0 0 1.0330 100.72 1896.80)" font-size="33" fill="#000">4</text>
<rect x="175.00" y="1999.15" width="393.00" height="6.70" fill="#000"/>
<rect x="561.80" y="1991.80" width="6.20" height="21.40" fill="#000"/>
<rect x="592.70" y="1999.15" width="171.90" height="6.70" fill="#000"/>
<rect x="592.70" y="1991.80" width="6.40" height="21.40" fill="#000"/>
<rect x="196.50" y="2002.50" width="6.40" height="13.70" fill="#000"/>
<rect x="217.90" y="2002.50" width="6.40" height="13.70" fill="#000"/>
<rect x="261.00" y="2002.50" width="6.40" height="13.70" fill="#000"/>
<rect x="304.00" y="2002.50" width="6.40" height="13.70" fill="#000"/>
<rect x="390.00" y="2002.50" width="6.40" height="13.70" fill="#000"/>
<rect x="540.10" y="2002.50" width="6.40" height="13.70" fill="#000"/>
<rect x="672.20" y="2002.50" width="6.40" height="13.70" fill="#000"/>
<rect x="758.30" y="2002.50" width="6.40" height="13.70" fill="#000"/>
<text transform="matrix(0.9465 0 0 1.0022 186.93 2052.00)" font-size="33" fill="#000">4</text>
<text transform="matrix(1.0154 0 0 0.9806 208.38 2051.75)" font-size="33" fill="#000">8</text>
<text transform="matrix(0.9493 0 0 0.9806 243.60 2051.75)" font-size="33" fill="#000">16</text>
<text transform="matrix(0.9408 0 0 0.9913 285.86 2052.00)" font-size="33" fill="#000">24</text>
<text transform="matrix(0.9800 0 0 0.9806 371.01 2051.75)" font-size="33" fill="#000">48</text>
<text transform="matrix(0.9421 0 0 0.9500 512.99 2052.00)" font-size="33" fill="#000">72h</text>
<text transform="matrix(1.0022 0 0 1.0022 669.22 2052.00)" font-size="33" fill="#000080">1</text>
<text transform="matrix(0.9556 0 0 0.9913 725.74 2052.00)" font-size="33" fill="#000080">2-7M</text>
<text xml:space="preserve" transform="matrix(0 -0.9963 0.9924 0 29.56 1935.05)" font-size="35" fill="#000">sTotal Protein (g/dl)</text>
<text transform="matrix(1.0184 0 0 0.9778 206.65 2098.50)" font-size="34">Time (hours (h) and months (M))</text>
<rect x="1104.70" y="1760.06" width="630.00" height="68.74" fill="#a2a1a6"/>
<rect x="1104.70" y="1690.94" width="630.00" height="69.12" fill="#d3d3d3"/>
<clipPath id="c8"><rect x="0" y="0" width="1537.7" height="2112"/><rect x="1564.0" y="0" width="209.0" height="2112"/></clipPath>
<polyline clip-path="url(#c8)" class="ln" points="1164.5,1749.7 1187.0,1752.4 1230.2,1765.8 1273.6,1819.6 1360.9,1752.4 1647.0,1763.9 1734.2,1762.0" stroke="#a80000"/>
<g class="pt" stroke="#a80000"><circle cx="1164.5" cy="1749.7" r="6.2"/><circle cx="1187.0" cy="1752.4" r="6.2"/><circle cx="1230.2" cy="1765.8" r="6.2"/><circle cx="1273.6" cy="1819.6" r="6.2"/><circle cx="1360.9" cy="1752.4" r="6.2"/><circle cx="1647.0" cy="1763.9" r="6.2"/><circle cx="1734.2" cy="1762.0" r="6.2"/></g>
<polyline clip-path="url(#c8)" class="ln" points="1187.0,1805.8 1230.2,1785.8 1273.6,1705.5 1360.9,1724.3 1513.2,1718.2 1734.2,1762.0" stroke="#7a0ea3"/>
<g class="pt" stroke="#7a0ea3"><circle cx="1187.0" cy="1805.8" r="6.2"/><circle cx="1230.2" cy="1785.8" r="6.2"/><circle cx="1273.6" cy="1705.5" r="6.2"/><circle cx="1360.9" cy="1724.3" r="6.2"/><circle cx="1513.2" cy="1718.2" r="6.2"/><circle cx="1734.2" cy="1762.0" r="6.2"/></g>
<polyline clip-path="url(#c8)" class="ln" points="1164.5,1659.8 1187.0,1831.9 1230.2,1919.4 1647.0,1771.6 1734.2,1780.8" stroke="#7a0ea3"/>
<g class="pt" stroke="#7a0ea3"><circle cx="1164.5" cy="1659.8" r="6.2"/><circle cx="1187.0" cy="1831.9" r="6.2"/><circle cx="1230.2" cy="1919.4" r="6.2"/><circle cx="1647.0" cy="1771.6" r="6.2"/><circle cx="1734.2" cy="1780.8" r="6.2"/></g>
<polyline clip-path="url(#c8)" class="ln" points="1187.0,1785.8 1230.2,1783.1 1273.6,1775.4 1360.9,1708.2 1513.2,1740.5 1734.2,1687.5" stroke="#7a0ea3"/>
<g class="pt" stroke="#7a0ea3"><circle cx="1187.0" cy="1785.8" r="6.2"/><circle cx="1230.2" cy="1783.1" r="6.2"/><circle cx="1273.6" cy="1775.4" r="6.2"/><circle cx="1360.9" cy="1708.2" r="6.2"/><circle cx="1513.2" cy="1740.5" r="6.2"/><circle cx="1734.2" cy="1687.5" r="6.2"/></g>
<polyline clip-path="url(#c8)" class="ln" points="1164.5,1667.1 1187.0,1668.7 1230.2,1729.7 1273.6,1722.0" stroke="#008000"/>
<g class="pt" stroke="#008000"><circle cx="1164.5" cy="1667.1" r="6.2"/><circle cx="1187.0" cy="1668.7" r="6.2"/><circle cx="1230.2" cy="1729.7" r="6.2"/><circle cx="1273.6" cy="1722.0" r="6.2"/></g>
<polyline clip-path="url(#c8)" class="ln" points="1164.5,1728.6 1187.0,1728.6 1230.2,1685.9 1273.6,1722.0 1360.9,1678.3 1647.0,1656.4 1734.2,1763.9" stroke="#008000"/>
<g class="pt" stroke="#008000"><circle cx="1164.5" cy="1728.6" r="6.2"/><circle cx="1187.0" cy="1728.6" r="6.2"/><circle cx="1230.2" cy="1685.9" r="6.2"/><circle cx="1273.6" cy="1722.0" r="6.2"/><circle cx="1360.9" cy="1678.3" r="6.2"/><circle cx="1647.0" cy="1656.4" r="6.2"/><circle cx="1734.2" cy="1763.9" r="6.2"/></g>
<polyline clip-path="url(#c8)" class="ln" points="1164.5,1742.0 1187.0,1752.4 1230.2,1704.8 1273.6,1754.7 1360.9,1687.5 1647.0,1685.2 1734.2,1660.2" stroke="#008000"/>
<g class="pt" stroke="#008000"><circle cx="1164.5" cy="1742.0" r="6.2"/><circle cx="1187.0" cy="1752.4" r="6.2"/><circle cx="1230.2" cy="1704.8" r="6.2"/><circle cx="1273.6" cy="1754.7" r="6.2"/><circle cx="1360.9" cy="1687.5" r="6.2"/><circle cx="1647.0" cy="1685.2" r="6.2"/><circle cx="1734.2" cy="1660.2" r="6.2"/></g>
<polyline clip-path="url(#c8)" class="ln" points="1164.5,1694.8 1230.2,1711.7 1273.6,1722.0 1360.9,1737.0 1647.0,1717.8 1734.2,1699.0" stroke="#008000"/>
<g class="pt" stroke="#008000"><circle cx="1164.5" cy="1694.8" r="6.2"/><circle cx="1230.2" cy="1711.7" r="6.2"/><circle cx="1273.6" cy="1722.0" r="6.2"/><circle cx="1360.9" cy="1737.0" r="6.2"/><circle cx="1647.0" cy="1717.8" r="6.2"/><circle cx="1734.2" cy="1699.0" r="6.2"/></g>
<polyline clip-path="url(#c8)" class="ln" points="1164.5,1763.1 1230.2,1729.7 1273.6,1764.7 1360.9,1748.9 1647.0,1745.5 1734.2,1722.8" stroke="#008000"/>
<g class="pt" stroke="#008000"><circle cx="1164.5" cy="1763.1" r="6.2"/><circle cx="1230.2" cy="1729.7" r="6.2"/><circle cx="1273.6" cy="1764.7" r="6.2"/><circle cx="1360.9" cy="1748.9" r="6.2"/><circle cx="1647.0" cy="1745.5" r="6.2"/><circle cx="1734.2" cy="1722.8" r="6.2"/></g>
<polyline clip-path="url(#c8)" class="ln" points="1164.5,1775.8 1187.0,1752.4 1230.2,1752.4 1273.6,1771.6 1360.9,1753.9 1647.0,1748.5 1734.2,1756.2" stroke="#008000"/>
<g class="pt" stroke="#008000"><circle cx="1164.5" cy="1775.8" r="6.2"/><circle cx="1187.0" cy="1752.4" r="6.2"/><circle cx="1230.2" cy="1752.4" r="6.2"/><circle cx="1273.6" cy="1771.6" r="6.2"/><circle cx="1360.9" cy="1753.9" r="6.2"/><circle cx="1647.0" cy="1748.5" r="6.2"/><circle cx="1734.2" cy="1756.2" r="6.2"/></g>
<polyline clip-path="url(#c8)" class="ln" points="1164.5,1784.6 1230.2,1765.8 1273.6,1781.9 1360.9,1773.5 1513.2,1780.8 1647.0,1763.9 1734.2,1763.9" stroke="#008000"/>
<g class="pt" stroke="#008000"><circle cx="1164.5" cy="1784.6" r="6.2"/><circle cx="1230.2" cy="1765.8" r="6.2"/><circle cx="1273.6" cy="1781.9" r="6.2"/><circle cx="1360.9" cy="1773.5" r="6.2"/><circle cx="1513.2" cy="1780.8" r="6.2"/><circle cx="1647.0" cy="1763.9" r="6.2"/><circle cx="1734.2" cy="1763.9" r="6.2"/></g>
<polyline clip-path="url(#c8)" class="ln" points="1164.5,1793.5 1230.2,1794.6 1273.6,1781.9 1360.9,1777.3 1647.0,1779.6 1734.2,1767.7" stroke="#008000"/>
<g class="pt" stroke="#008000"><circle cx="1164.5" cy="1793.5" r="6.2"/><circle cx="1230.2" cy="1794.6" r="6.2"/><circle cx="1273.6" cy="1781.9" r="6.2"/><circle cx="1360.9" cy="1777.3" r="6.2"/><circle cx="1647.0" cy="1779.6" r="6.2"/><circle cx="1734.2" cy="1767.7" r="6.2"/></g>
<polyline clip-path="url(#c8)" class="ln" points="1164.5,1819.6 1187.0,1831.9 1230.2,1798.5 1273.6,1800.8 1360.9,1809.2 1647.0,1763.9" stroke="#008000"/>
<g class="pt" stroke="#008000"><circle cx="1164.5" cy="1819.6" r="6.2"/><circle cx="1187.0" cy="1831.9" r="6.2"/><circle cx="1230.2" cy="1798.5" r="6.2"/><circle cx="1273.6" cy="1800.8" r="6.2"/><circle cx="1360.9" cy="1809.2" r="6.2"/><circle cx="1647.0" cy="1763.9" r="6.2"/></g>
<polyline clip-path="url(#c8)" class="ln" points="1164.5,1846.8 1187.0,1831.9 1230.2,1859.5 1273.6,1839.5 1360.9,1828.8 1647.0,1846.1 1734.2,1763.9" stroke="#008000"/>
<g class="pt" stroke="#008000"><circle cx="1164.5" cy="1846.8" r="6.2"/><circle cx="1187.0" cy="1831.9" r="6.2"/><circle cx="1230.2" cy="1859.5" r="6.2"/><circle cx="1273.6" cy="1839.5" r="6.2"/><circle cx="1360.9" cy="1828.8" r="6.2"/><circle cx="1647.0" cy="1846.1" r="6.2"/><circle cx="1734.2" cy="1763.9" r="6.2"/></g>
<polyline clip-path="url(#c8)" class="ln" points="1230.2,1794.6 1273.6,1800.8 1360.9,1909.8 1647.0,1877.9" stroke="#008000"/>
<g class="pt" stroke="#008000"><circle cx="1230.2" cy="1794.6" r="6.2"/><circle cx="1273.6" cy="1800.8" r="6.2"/><circle cx="1360.9" cy="1909.8" r="6.2"/><circle cx="1647.0" cy="1877.9" r="6.2"/></g>
<polyline clip-path="url(#c8)" class="ln" points="1230.2,1798.5 1273.6,1844.5 1360.9,1828.8 1734.2,1793.9" stroke="#008000"/>
<g class="pt" stroke="#008000"><circle cx="1230.2" cy="1798.5" r="6.2"/><circle cx="1273.6" cy="1844.5" r="6.2"/><circle cx="1360.9" cy="1828.8" r="6.2"/><circle cx="1734.2" cy="1793.9" r="6.2"/></g>
<rect x="1098.45" y="1568.70" width="6.70" height="388.80" fill="#000"/>
<rect x="1088.90" y="1568.65" width="12.90" height="6.70" fill="#000"/>
<text transform="matrix(0.9684 0 0 1.0217 1048.06 1583.70)" font-size="33" fill="#000">12</text>
<rect x="1088.90" y="1722.15" width="12.90" height="6.70" fill="#000"/>
<text transform="matrix(0.9846 0 0 1.0108 1065.22 1736.95)" font-size="33" fill="#000">8</text>
<rect x="1088.90" y="1875.65" width="12.90" height="6.70" fill="#000"/>
<text transform="matrix(0.9803 0 0 1.0330 1064.51 1890.70)" font-size="33" fill="#000">4</text>
<rect x="1140.40" y="1993.15" width="397.70" height="6.70" fill="#000"/>
<rect x="1531.90" y="1985.80" width="6.20" height="21.40" fill="#000"/>
<rect x="1563.10" y="1993.15" width="174.20" height="6.70" fill="#000"/>
<rect x="1563.10" y="1985.80" width="6.50" height="21.40" fill="#000"/>
<rect x="1161.60" y="1996.50" width="6.40" height="14.20" fill="#000"/>
<rect x="1183.40" y="1996.50" width="6.40" height="14.20" fill="#000"/>
<rect x="1227.20" y="1996.50" width="6.40" height="14.20" fill="#000"/>
<rect x="1270.90" y="1996.50" width="6.40" height="14.20" fill="#000"/>
<rect x="1357.70" y="1996.50" width="6.40" height="14.20" fill="#000"/>
<rect x="1510.30" y="1996.50" width="6.40" height="14.20" fill="#000"/>
<rect x="1644.10" y="1996.50" width="6.40" height="14.20" fill="#000"/>
<rect x="1731.00" y="1996.50" width="6.40" height="14.20" fill="#000"/>
<text transform="matrix(0.9408 0 0 1.0286 1151.93 2046.30)" font-size="33" fill="#000">4</text>
<text transform="matrix(0.9785 0 0 1.0065 1173.92 2046.05)" font-size="33" fill="#000">8</text>
<text transform="matrix(0.9612 0 0 1.0065 1209.88 2046.05)" font-size="33" fill="#000">16</text>
<text transform="matrix(0.9493 0 0 1.0174 1252.55 2046.30)" font-size="33" fill="#000">24</text>
<text transform="matrix(0.9800 0 0 1.0065 1339.01 2046.05)" font-size="33" fill="#000">48</text>
<text transform="matrix(0.9514 0 0 0.9750 1482.17 2046.30)" font-size="33" fill="#000">72h</text>
<text transform="matrix(1.0286 0 0 1.0286 1640.30 2046.30)" font-size="33" fill="#000080">1</text>
<text transform="matrix(0.9736 0 0 1.0174 1697.93 2046.30)" font-size="33" fill="#000080">2-7M</text>
<text xml:space="preserve" transform="matrix(0 -1.0132 1.0290 0 993.88 1923.57)" font-size="35" fill="#000">sTotal Protein(g/dl)</text>
<text transform="matrix(1.0311 0 0 1.0101 1172.14 2094.80)" font-size="34">Time (hours (h) and months (M))</text>
<text transform="matrix(0.8889 0 0 0.9783 53.89 37.01)" font-size="42" fill="#000">a</text>
<text transform="matrix(1.0024 0 0 0.9968 50.94 550.10)" font-size="42" fill="#000">b</text>
<text transform="matrix(0.9831 0 0 1.0174 46.33 1044.39)" font-size="42" fill="#000">c</text>
<text transform="matrix(1.0400 0 0 1.0226 40.28 1558.49)" font-size="42" fill="#000">d</text>
</svg>
</body></html>
